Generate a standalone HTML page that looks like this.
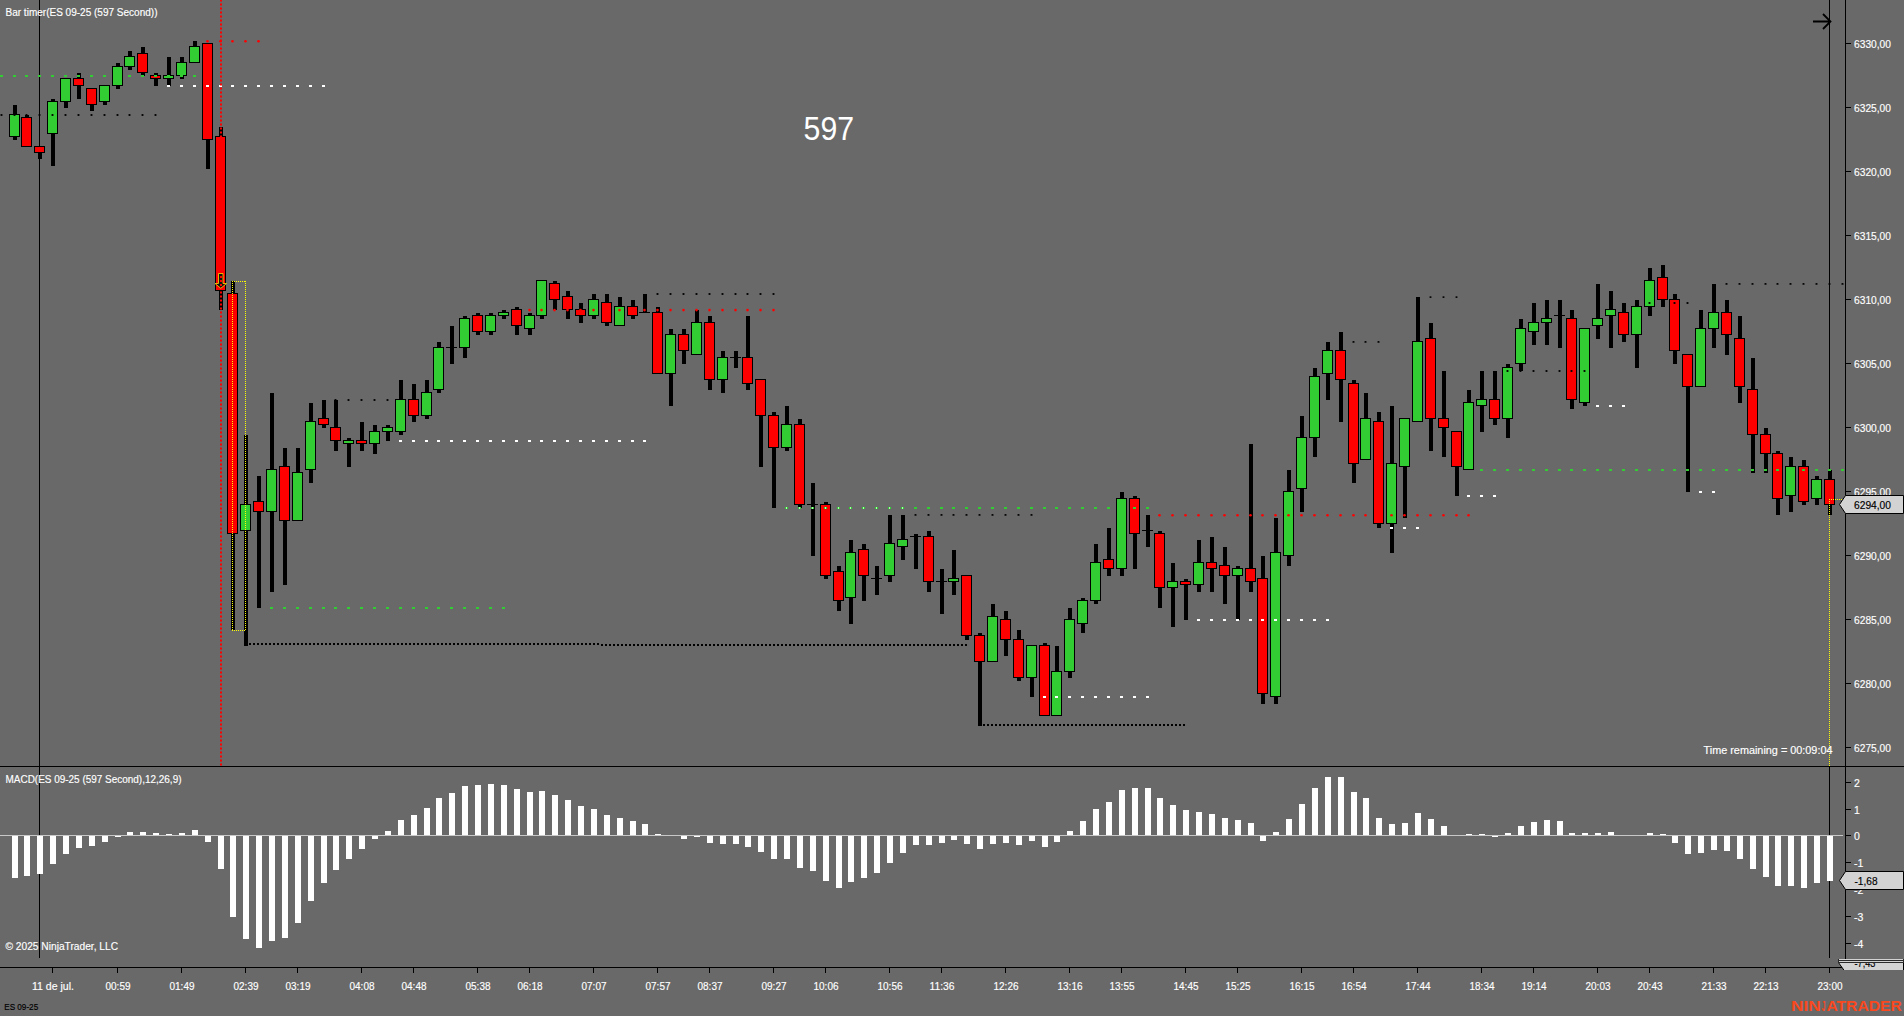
<!DOCTYPE html>
<html><head><meta charset="utf-8"><title>Chart</title>
<style>html,body{margin:0;padding:0;background:#696969;overflow:hidden}svg{display:block}</style>
</head><body>
<svg width="1904" height="1016" viewBox="0 0 1904 1016" style="display:block" font-family="'Liberation Sans', sans-serif" fill="#fff">
<rect width="1904" height="1016" fill="#696969"/>
<g shape-rendering="crispEdges">
<rect x="39" y="0" width="1" height="958" fill="#000"/>
<rect x="1829" y="0" width="1" height="470" fill="#000"/>
<rect x="1829" y="767" width="1" height="191" fill="#000"/>
<rect x="249" y="643" width="2" height="2" fill="#000"/>
<rect x="253" y="643" width="2" height="2" fill="#000"/>
<rect x="257" y="643" width="2" height="2" fill="#000"/>
<rect x="261" y="643" width="2" height="2" fill="#000"/>
<rect x="265" y="643" width="2" height="2" fill="#000"/>
<rect x="269" y="643" width="2" height="2" fill="#000"/>
<rect x="273" y="643" width="2" height="2" fill="#000"/>
<rect x="277" y="643" width="2" height="2" fill="#000"/>
<rect x="281" y="643" width="2" height="2" fill="#000"/>
<rect x="285" y="643" width="2" height="2" fill="#000"/>
<rect x="289" y="643" width="2" height="2" fill="#000"/>
<rect x="293" y="643" width="2" height="2" fill="#000"/>
<rect x="297" y="643" width="2" height="2" fill="#000"/>
<rect x="301" y="643" width="2" height="2" fill="#000"/>
<rect x="305" y="643" width="2" height="2" fill="#000"/>
<rect x="309" y="643" width="2" height="2" fill="#000"/>
<rect x="313" y="643" width="2" height="2" fill="#000"/>
<rect x="317" y="643" width="2" height="2" fill="#000"/>
<rect x="321" y="643" width="2" height="2" fill="#000"/>
<rect x="325" y="643" width="2" height="2" fill="#000"/>
<rect x="329" y="643" width="2" height="2" fill="#000"/>
<rect x="333" y="643" width="2" height="2" fill="#000"/>
<rect x="337" y="643" width="2" height="2" fill="#000"/>
<rect x="341" y="643" width="2" height="2" fill="#000"/>
<rect x="345" y="643" width="2" height="2" fill="#000"/>
<rect x="349" y="643" width="2" height="2" fill="#000"/>
<rect x="353" y="643" width="2" height="2" fill="#000"/>
<rect x="357" y="643" width="2" height="2" fill="#000"/>
<rect x="361" y="643" width="2" height="2" fill="#000"/>
<rect x="365" y="643" width="2" height="2" fill="#000"/>
<rect x="369" y="643" width="2" height="2" fill="#000"/>
<rect x="373" y="643" width="2" height="2" fill="#000"/>
<rect x="377" y="643" width="2" height="2" fill="#000"/>
<rect x="381" y="643" width="2" height="2" fill="#000"/>
<rect x="385" y="643" width="2" height="2" fill="#000"/>
<rect x="389" y="643" width="2" height="2" fill="#000"/>
<rect x="393" y="643" width="2" height="2" fill="#000"/>
<rect x="397" y="643" width="2" height="2" fill="#000"/>
<rect x="401" y="643" width="2" height="2" fill="#000"/>
<rect x="405" y="643" width="2" height="2" fill="#000"/>
<rect x="409" y="643" width="2" height="2" fill="#000"/>
<rect x="413" y="643" width="2" height="2" fill="#000"/>
<rect x="417" y="643" width="2" height="2" fill="#000"/>
<rect x="421" y="643" width="2" height="2" fill="#000"/>
<rect x="425" y="643" width="2" height="2" fill="#000"/>
<rect x="429" y="643" width="2" height="2" fill="#000"/>
<rect x="433" y="643" width="2" height="2" fill="#000"/>
<rect x="437" y="643" width="2" height="2" fill="#000"/>
<rect x="441" y="643" width="2" height="2" fill="#000"/>
<rect x="445" y="643" width="2" height="2" fill="#000"/>
<rect x="449" y="643" width="2" height="2" fill="#000"/>
<rect x="453" y="643" width="2" height="2" fill="#000"/>
<rect x="457" y="643" width="2" height="2" fill="#000"/>
<rect x="461" y="643" width="2" height="2" fill="#000"/>
<rect x="465" y="643" width="2" height="2" fill="#000"/>
<rect x="469" y="643" width="2" height="2" fill="#000"/>
<rect x="473" y="643" width="2" height="2" fill="#000"/>
<rect x="477" y="643" width="2" height="2" fill="#000"/>
<rect x="481" y="643" width="2" height="2" fill="#000"/>
<rect x="485" y="643" width="2" height="2" fill="#000"/>
<rect x="489" y="643" width="2" height="2" fill="#000"/>
<rect x="493" y="643" width="2" height="2" fill="#000"/>
<rect x="497" y="643" width="2" height="2" fill="#000"/>
<rect x="501" y="643" width="2" height="2" fill="#000"/>
<rect x="505" y="643" width="2" height="2" fill="#000"/>
<rect x="509" y="643" width="2" height="2" fill="#000"/>
<rect x="513" y="643" width="2" height="2" fill="#000"/>
<rect x="517" y="643" width="2" height="2" fill="#000"/>
<rect x="521" y="643" width="2" height="2" fill="#000"/>
<rect x="525" y="643" width="2" height="2" fill="#000"/>
<rect x="529" y="643" width="2" height="2" fill="#000"/>
<rect x="533" y="643" width="2" height="2" fill="#000"/>
<rect x="537" y="643" width="2" height="2" fill="#000"/>
<rect x="541" y="643" width="2" height="2" fill="#000"/>
<rect x="545" y="643" width="2" height="2" fill="#000"/>
<rect x="549" y="643" width="2" height="2" fill="#000"/>
<rect x="553" y="643" width="2" height="2" fill="#000"/>
<rect x="557" y="643" width="2" height="2" fill="#000"/>
<rect x="561" y="643" width="2" height="2" fill="#000"/>
<rect x="565" y="643" width="2" height="2" fill="#000"/>
<rect x="569" y="643" width="2" height="2" fill="#000"/>
<rect x="573" y="643" width="2" height="2" fill="#000"/>
<rect x="577" y="643" width="2" height="2" fill="#000"/>
<rect x="581" y="643" width="2" height="2" fill="#000"/>
<rect x="585" y="643" width="2" height="2" fill="#000"/>
<rect x="589" y="643" width="2" height="2" fill="#000"/>
<rect x="593" y="643" width="2" height="2" fill="#000"/>
<rect x="597" y="643" width="2" height="2" fill="#000"/>
<rect x="601" y="644" width="2" height="2" fill="#000"/>
<rect x="605" y="644" width="2" height="2" fill="#000"/>
<rect x="609" y="644" width="2" height="2" fill="#000"/>
<rect x="613" y="644" width="2" height="2" fill="#000"/>
<rect x="617" y="644" width="2" height="2" fill="#000"/>
<rect x="621" y="644" width="2" height="2" fill="#000"/>
<rect x="625" y="644" width="2" height="2" fill="#000"/>
<rect x="629" y="644" width="2" height="2" fill="#000"/>
<rect x="633" y="644" width="2" height="2" fill="#000"/>
<rect x="637" y="644" width="2" height="2" fill="#000"/>
<rect x="641" y="644" width="2" height="2" fill="#000"/>
<rect x="645" y="644" width="2" height="2" fill="#000"/>
<rect x="649" y="644" width="2" height="2" fill="#000"/>
<rect x="653" y="644" width="2" height="2" fill="#000"/>
<rect x="657" y="644" width="2" height="2" fill="#000"/>
<rect x="661" y="644" width="2" height="2" fill="#000"/>
<rect x="665" y="644" width="2" height="2" fill="#000"/>
<rect x="669" y="644" width="2" height="2" fill="#000"/>
<rect x="673" y="644" width="2" height="2" fill="#000"/>
<rect x="677" y="644" width="2" height="2" fill="#000"/>
<rect x="681" y="644" width="2" height="2" fill="#000"/>
<rect x="685" y="644" width="2" height="2" fill="#000"/>
<rect x="689" y="644" width="2" height="2" fill="#000"/>
<rect x="693" y="644" width="2" height="2" fill="#000"/>
<rect x="697" y="644" width="2" height="2" fill="#000"/>
<rect x="701" y="644" width="2" height="2" fill="#000"/>
<rect x="705" y="644" width="2" height="2" fill="#000"/>
<rect x="709" y="644" width="2" height="2" fill="#000"/>
<rect x="713" y="644" width="2" height="2" fill="#000"/>
<rect x="717" y="644" width="2" height="2" fill="#000"/>
<rect x="721" y="644" width="2" height="2" fill="#000"/>
<rect x="725" y="644" width="2" height="2" fill="#000"/>
<rect x="729" y="644" width="2" height="2" fill="#000"/>
<rect x="733" y="644" width="2" height="2" fill="#000"/>
<rect x="737" y="644" width="2" height="2" fill="#000"/>
<rect x="741" y="644" width="2" height="2" fill="#000"/>
<rect x="745" y="644" width="2" height="2" fill="#000"/>
<rect x="749" y="644" width="2" height="2" fill="#000"/>
<rect x="753" y="644" width="2" height="2" fill="#000"/>
<rect x="757" y="644" width="2" height="2" fill="#000"/>
<rect x="761" y="644" width="2" height="2" fill="#000"/>
<rect x="765" y="644" width="2" height="2" fill="#000"/>
<rect x="769" y="644" width="2" height="2" fill="#000"/>
<rect x="773" y="644" width="2" height="2" fill="#000"/>
<rect x="777" y="644" width="2" height="2" fill="#000"/>
<rect x="781" y="644" width="2" height="2" fill="#000"/>
<rect x="785" y="644" width="2" height="2" fill="#000"/>
<rect x="789" y="644" width="2" height="2" fill="#000"/>
<rect x="793" y="644" width="2" height="2" fill="#000"/>
<rect x="797" y="644" width="2" height="2" fill="#000"/>
<rect x="801" y="644" width="2" height="2" fill="#000"/>
<rect x="805" y="644" width="2" height="2" fill="#000"/>
<rect x="809" y="644" width="2" height="2" fill="#000"/>
<rect x="813" y="644" width="2" height="2" fill="#000"/>
<rect x="817" y="644" width="2" height="2" fill="#000"/>
<rect x="821" y="644" width="2" height="2" fill="#000"/>
<rect x="825" y="644" width="2" height="2" fill="#000"/>
<rect x="829" y="644" width="2" height="2" fill="#000"/>
<rect x="833" y="644" width="2" height="2" fill="#000"/>
<rect x="837" y="644" width="2" height="2" fill="#000"/>
<rect x="841" y="644" width="2" height="2" fill="#000"/>
<rect x="845" y="644" width="2" height="2" fill="#000"/>
<rect x="849" y="644" width="2" height="2" fill="#000"/>
<rect x="853" y="644" width="2" height="2" fill="#000"/>
<rect x="857" y="644" width="2" height="2" fill="#000"/>
<rect x="861" y="644" width="2" height="2" fill="#000"/>
<rect x="865" y="644" width="2" height="2" fill="#000"/>
<rect x="869" y="644" width="2" height="2" fill="#000"/>
<rect x="873" y="644" width="2" height="2" fill="#000"/>
<rect x="877" y="644" width="2" height="2" fill="#000"/>
<rect x="881" y="644" width="2" height="2" fill="#000"/>
<rect x="885" y="644" width="2" height="2" fill="#000"/>
<rect x="889" y="644" width="2" height="2" fill="#000"/>
<rect x="893" y="644" width="2" height="2" fill="#000"/>
<rect x="897" y="644" width="2" height="2" fill="#000"/>
<rect x="901" y="644" width="2" height="2" fill="#000"/>
<rect x="905" y="644" width="2" height="2" fill="#000"/>
<rect x="909" y="644" width="2" height="2" fill="#000"/>
<rect x="913" y="644" width="2" height="2" fill="#000"/>
<rect x="917" y="644" width="2" height="2" fill="#000"/>
<rect x="921" y="644" width="2" height="2" fill="#000"/>
<rect x="925" y="644" width="2" height="2" fill="#000"/>
<rect x="929" y="644" width="2" height="2" fill="#000"/>
<rect x="933" y="644" width="2" height="2" fill="#000"/>
<rect x="937" y="644" width="2" height="2" fill="#000"/>
<rect x="941" y="644" width="2" height="2" fill="#000"/>
<rect x="945" y="644" width="2" height="2" fill="#000"/>
<rect x="949" y="644" width="2" height="2" fill="#000"/>
<rect x="953" y="644" width="2" height="2" fill="#000"/>
<rect x="957" y="644" width="2" height="2" fill="#000"/>
<rect x="961" y="644" width="2" height="2" fill="#000"/>
<rect x="965" y="644" width="2" height="2" fill="#000"/>
<rect x="983" y="724" width="2" height="2" fill="#000"/>
<rect x="987" y="724" width="2" height="2" fill="#000"/>
<rect x="991" y="724" width="2" height="2" fill="#000"/>
<rect x="995" y="724" width="2" height="2" fill="#000"/>
<rect x="999" y="724" width="2" height="2" fill="#000"/>
<rect x="1003" y="724" width="2" height="2" fill="#000"/>
<rect x="1007" y="724" width="2" height="2" fill="#000"/>
<rect x="1011" y="724" width="2" height="2" fill="#000"/>
<rect x="1015" y="724" width="2" height="2" fill="#000"/>
<rect x="1019" y="724" width="2" height="2" fill="#000"/>
<rect x="1023" y="724" width="2" height="2" fill="#000"/>
<rect x="1027" y="724" width="2" height="2" fill="#000"/>
<rect x="1031" y="724" width="2" height="2" fill="#000"/>
<rect x="1035" y="724" width="2" height="2" fill="#000"/>
<rect x="1039" y="724" width="2" height="2" fill="#000"/>
<rect x="1043" y="724" width="2" height="2" fill="#000"/>
<rect x="1047" y="724" width="2" height="2" fill="#000"/>
<rect x="1051" y="724" width="2" height="2" fill="#000"/>
<rect x="1055" y="724" width="2" height="2" fill="#000"/>
<rect x="1059" y="724" width="2" height="2" fill="#000"/>
<rect x="1063" y="724" width="2" height="2" fill="#000"/>
<rect x="1067" y="724" width="2" height="2" fill="#000"/>
<rect x="1071" y="724" width="2" height="2" fill="#000"/>
<rect x="1075" y="724" width="2" height="2" fill="#000"/>
<rect x="1079" y="724" width="2" height="2" fill="#000"/>
<rect x="1083" y="724" width="2" height="2" fill="#000"/>
<rect x="1087" y="724" width="2" height="2" fill="#000"/>
<rect x="1091" y="724" width="2" height="2" fill="#000"/>
<rect x="1095" y="724" width="2" height="2" fill="#000"/>
<rect x="1099" y="724" width="2" height="2" fill="#000"/>
<rect x="1103" y="724" width="2" height="2" fill="#000"/>
<rect x="1107" y="724" width="2" height="2" fill="#000"/>
<rect x="1111" y="724" width="2" height="2" fill="#000"/>
<rect x="1115" y="724" width="2" height="2" fill="#000"/>
<rect x="1119" y="724" width="2" height="2" fill="#000"/>
<rect x="1123" y="724" width="2" height="2" fill="#000"/>
<rect x="1127" y="724" width="2" height="2" fill="#000"/>
<rect x="1131" y="724" width="2" height="2" fill="#000"/>
<rect x="1135" y="724" width="2" height="2" fill="#000"/>
<rect x="1139" y="724" width="2" height="2" fill="#000"/>
<rect x="1143" y="724" width="2" height="2" fill="#000"/>
<rect x="1147" y="724" width="2" height="2" fill="#000"/>
<rect x="1151" y="724" width="2" height="2" fill="#000"/>
<rect x="1155" y="724" width="2" height="2" fill="#000"/>
<rect x="1159" y="724" width="2" height="2" fill="#000"/>
<rect x="1163" y="724" width="2" height="2" fill="#000"/>
<rect x="1167" y="724" width="2" height="2" fill="#000"/>
<rect x="1171" y="724" width="2" height="2" fill="#000"/>
<rect x="1175" y="724" width="2" height="2" fill="#000"/>
<rect x="1179" y="724" width="2" height="2" fill="#000"/>
<rect x="1183" y="724" width="2" height="2" fill="#000"/>
<rect x="13" y="105" width="4" height="35" fill="#000"/>
<rect x="9" y="114" width="11" height="23" fill="#000"/>
<rect x="10" y="115" width="9" height="21" fill="#32cd32"/>
<rect x="25" y="115" width="4" height="32" fill="#000"/>
<rect x="21" y="117" width="11" height="30" fill="#000"/>
<rect x="22" y="118" width="9" height="28" fill="#ff0000"/>
<rect x="38" y="147" width="4" height="12" fill="#000"/>
<rect x="34" y="146" width="11" height="7" fill="#000"/>
<rect x="35" y="147" width="9" height="5" fill="#ff0000"/>
<rect x="51" y="99" width="4" height="67" fill="#000"/>
<rect x="47" y="101" width="11" height="33" fill="#000"/>
<rect x="48" y="102" width="9" height="31" fill="#32cd32"/>
<rect x="64" y="79" width="4" height="29" fill="#000"/>
<rect x="60" y="78" width="11" height="24" fill="#000"/>
<rect x="61" y="79" width="9" height="22" fill="#32cd32"/>
<rect x="77" y="73" width="4" height="26" fill="#000"/>
<rect x="73" y="78" width="11" height="8" fill="#000"/>
<rect x="74" y="79" width="9" height="6" fill="#ff0000"/>
<rect x="90" y="89" width="4" height="22" fill="#000"/>
<rect x="86" y="88" width="11" height="17" fill="#000"/>
<rect x="87" y="89" width="9" height="15" fill="#ff0000"/>
<rect x="103" y="86" width="4" height="19" fill="#000"/>
<rect x="99" y="85" width="11" height="17" fill="#000"/>
<rect x="100" y="86" width="9" height="15" fill="#32cd32"/>
<rect x="116" y="63" width="4" height="26" fill="#000"/>
<rect x="112" y="66" width="11" height="20" fill="#000"/>
<rect x="113" y="67" width="9" height="18" fill="#32cd32"/>
<rect x="128" y="51" width="4" height="19" fill="#000"/>
<rect x="124" y="56" width="11" height="11" fill="#000"/>
<rect x="125" y="57" width="9" height="9" fill="#32cd32"/>
<rect x="141" y="47" width="4" height="29" fill="#000"/>
<rect x="137" y="53" width="11" height="20" fill="#000"/>
<rect x="138" y="54" width="9" height="18" fill="#ff0000"/>
<rect x="154" y="73" width="4" height="13" fill="#000"/>
<rect x="150" y="75" width="11" height="4" fill="#000"/>
<rect x="151" y="76" width="9" height="2" fill="#ff0000"/>
<rect x="167" y="57" width="4" height="29" fill="#000"/>
<rect x="163" y="75" width="11" height="4" fill="#000"/>
<rect x="164" y="76" width="9" height="2" fill="#32cd32"/>
<rect x="180" y="57" width="4" height="22" fill="#000"/>
<rect x="176" y="62" width="11" height="14" fill="#000"/>
<rect x="177" y="63" width="9" height="12" fill="#32cd32"/>
<rect x="193" y="41" width="4" height="22" fill="#000"/>
<rect x="189" y="46" width="11" height="17" fill="#000"/>
<rect x="190" y="47" width="9" height="15" fill="#32cd32"/>
<rect x="206" y="44" width="4" height="125" fill="#000"/>
<rect x="202" y="43" width="11" height="97" fill="#000"/>
<rect x="203" y="44" width="9" height="95" fill="#ff0000"/>
<rect x="219" y="127" width="4" height="183" fill="#000"/>
<rect x="215" y="136" width="11" height="155" fill="#000"/>
<rect x="216" y="137" width="9" height="153" fill="#ff0000"/>
<rect x="231" y="281" width="4" height="349" fill="#000"/>
<rect x="227" y="293" width="11" height="241" fill="#000"/>
<rect x="228" y="294" width="9" height="239" fill="#ff0000"/>
<rect x="244" y="435" width="4" height="211" fill="#000"/>
<rect x="240" y="504" width="11" height="27" fill="#000"/>
<rect x="241" y="505" width="9" height="25" fill="#32cd32"/>
<rect x="257" y="476" width="4" height="132" fill="#000"/>
<rect x="253" y="501" width="11" height="11" fill="#000"/>
<rect x="254" y="502" width="9" height="9" fill="#ff0000"/>
<rect x="270" y="393" width="4" height="199" fill="#000"/>
<rect x="266" y="469" width="11" height="43" fill="#000"/>
<rect x="267" y="470" width="9" height="41" fill="#32cd32"/>
<rect x="283" y="448" width="4" height="137" fill="#000"/>
<rect x="279" y="466" width="11" height="55" fill="#000"/>
<rect x="280" y="467" width="9" height="53" fill="#ff0000"/>
<rect x="296" y="448" width="4" height="73" fill="#000"/>
<rect x="292" y="472" width="11" height="49" fill="#000"/>
<rect x="293" y="473" width="9" height="47" fill="#32cd32"/>
<rect x="309" y="403" width="4" height="80" fill="#000"/>
<rect x="305" y="421" width="11" height="49" fill="#000"/>
<rect x="306" y="422" width="9" height="47" fill="#32cd32"/>
<rect x="322" y="400" width="4" height="28" fill="#000"/>
<rect x="318" y="418" width="11" height="7" fill="#000"/>
<rect x="319" y="419" width="9" height="5" fill="#ff0000"/>
<rect x="334" y="400" width="4" height="51" fill="#000"/>
<rect x="330" y="427" width="11" height="14" fill="#000"/>
<rect x="331" y="428" width="9" height="12" fill="#ff0000"/>
<rect x="347" y="438" width="4" height="29" fill="#000"/>
<rect x="343" y="440" width="11" height="4" fill="#000"/>
<rect x="344" y="441" width="9" height="2" fill="#32cd32"/>
<rect x="360" y="422" width="4" height="29" fill="#000"/>
<rect x="356" y="440" width="11" height="4" fill="#000"/>
<rect x="357" y="441" width="9" height="2" fill="#ff0000"/>
<rect x="373" y="425" width="4" height="29" fill="#000"/>
<rect x="369" y="431" width="11" height="13" fill="#000"/>
<rect x="370" y="432" width="9" height="11" fill="#32cd32"/>
<rect x="386" y="425" width="4" height="16" fill="#000"/>
<rect x="382" y="427" width="11" height="5" fill="#000"/>
<rect x="383" y="428" width="9" height="3" fill="#32cd32"/>
<rect x="399" y="380" width="4" height="55" fill="#000"/>
<rect x="395" y="399" width="11" height="33" fill="#000"/>
<rect x="396" y="400" width="9" height="31" fill="#32cd32"/>
<rect x="412" y="384" width="4" height="38" fill="#000"/>
<rect x="408" y="399" width="11" height="17" fill="#000"/>
<rect x="409" y="400" width="9" height="15" fill="#ff0000"/>
<rect x="425" y="380" width="4" height="39" fill="#000"/>
<rect x="421" y="392" width="11" height="24" fill="#000"/>
<rect x="422" y="393" width="9" height="22" fill="#32cd32"/>
<rect x="437" y="342" width="4" height="51" fill="#000"/>
<rect x="433" y="347" width="11" height="43" fill="#000"/>
<rect x="434" y="348" width="9" height="41" fill="#32cd32"/>
<rect x="450" y="326" width="4" height="38" fill="#000"/>
<rect x="446" y="347" width="11" height="1" fill="#000"/>
<rect x="463" y="316" width="4" height="42" fill="#000"/>
<rect x="459" y="318" width="11" height="30" fill="#000"/>
<rect x="460" y="319" width="9" height="28" fill="#32cd32"/>
<rect x="476" y="313" width="4" height="22" fill="#000"/>
<rect x="472" y="315" width="11" height="17" fill="#000"/>
<rect x="473" y="316" width="9" height="15" fill="#ff0000"/>
<rect x="489" y="313" width="4" height="22" fill="#000"/>
<rect x="485" y="315" width="11" height="17" fill="#000"/>
<rect x="486" y="316" width="9" height="15" fill="#32cd32"/>
<rect x="502" y="310" width="4" height="9" fill="#000"/>
<rect x="498" y="312" width="11" height="4" fill="#000"/>
<rect x="499" y="313" width="9" height="2" fill="#32cd32"/>
<rect x="515" y="307" width="4" height="28" fill="#000"/>
<rect x="511" y="309" width="11" height="17" fill="#000"/>
<rect x="512" y="310" width="9" height="15" fill="#ff0000"/>
<rect x="528" y="313" width="4" height="22" fill="#000"/>
<rect x="524" y="315" width="11" height="14" fill="#000"/>
<rect x="525" y="316" width="9" height="12" fill="#32cd32"/>
<rect x="540" y="281" width="4" height="38" fill="#000"/>
<rect x="536" y="280" width="11" height="36" fill="#000"/>
<rect x="537" y="281" width="9" height="34" fill="#32cd32"/>
<rect x="553" y="281" width="4" height="29" fill="#000"/>
<rect x="549" y="283" width="11" height="17" fill="#000"/>
<rect x="550" y="284" width="9" height="15" fill="#ff0000"/>
<rect x="566" y="291" width="4" height="28" fill="#000"/>
<rect x="562" y="296" width="11" height="14" fill="#000"/>
<rect x="563" y="297" width="9" height="12" fill="#ff0000"/>
<rect x="579" y="303" width="4" height="20" fill="#000"/>
<rect x="575" y="309" width="11" height="7" fill="#000"/>
<rect x="576" y="310" width="9" height="5" fill="#ff0000"/>
<rect x="592" y="294" width="4" height="25" fill="#000"/>
<rect x="588" y="299" width="11" height="17" fill="#000"/>
<rect x="589" y="300" width="9" height="15" fill="#32cd32"/>
<rect x="605" y="294" width="4" height="32" fill="#000"/>
<rect x="601" y="302" width="11" height="21" fill="#000"/>
<rect x="602" y="303" width="9" height="19" fill="#ff0000"/>
<rect x="618" y="297" width="4" height="29" fill="#000"/>
<rect x="614" y="306" width="11" height="20" fill="#000"/>
<rect x="615" y="307" width="9" height="18" fill="#32cd32"/>
<rect x="631" y="300" width="4" height="19" fill="#000"/>
<rect x="627" y="306" width="11" height="10" fill="#000"/>
<rect x="628" y="307" width="9" height="8" fill="#ff0000"/>
<rect x="643" y="294" width="4" height="19" fill="#000"/>
<rect x="639" y="312" width="11" height="1" fill="#000"/>
<rect x="656" y="307" width="4" height="67" fill="#000"/>
<rect x="652" y="312" width="11" height="62" fill="#000"/>
<rect x="653" y="313" width="9" height="60" fill="#ff0000"/>
<rect x="669" y="329" width="4" height="77" fill="#000"/>
<rect x="665" y="334" width="11" height="40" fill="#000"/>
<rect x="666" y="335" width="9" height="38" fill="#32cd32"/>
<rect x="682" y="329" width="4" height="35" fill="#000"/>
<rect x="678" y="334" width="11" height="17" fill="#000"/>
<rect x="679" y="335" width="9" height="15" fill="#ff0000"/>
<rect x="695" y="310" width="4" height="45" fill="#000"/>
<rect x="691" y="322" width="11" height="33" fill="#000"/>
<rect x="692" y="323" width="9" height="31" fill="#32cd32"/>
<rect x="708" y="316" width="4" height="74" fill="#000"/>
<rect x="704" y="322" width="11" height="58" fill="#000"/>
<rect x="705" y="323" width="9" height="56" fill="#ff0000"/>
<rect x="721" y="351" width="4" height="42" fill="#000"/>
<rect x="717" y="357" width="11" height="23" fill="#000"/>
<rect x="718" y="358" width="9" height="21" fill="#32cd32"/>
<rect x="734" y="351" width="4" height="17" fill="#000"/>
<rect x="730" y="357" width="11" height="1" fill="#000"/>
<rect x="746" y="316" width="4" height="74" fill="#000"/>
<rect x="742" y="357" width="11" height="27" fill="#000"/>
<rect x="743" y="358" width="9" height="25" fill="#ff0000"/>
<rect x="759" y="380" width="4" height="87" fill="#000"/>
<rect x="755" y="379" width="11" height="37" fill="#000"/>
<rect x="756" y="380" width="9" height="35" fill="#ff0000"/>
<rect x="772" y="412" width="4" height="96" fill="#000"/>
<rect x="768" y="415" width="11" height="33" fill="#000"/>
<rect x="769" y="416" width="9" height="31" fill="#ff0000"/>
<rect x="785" y="406" width="4" height="45" fill="#000"/>
<rect x="781" y="424" width="11" height="24" fill="#000"/>
<rect x="782" y="425" width="9" height="22" fill="#32cd32"/>
<rect x="798" y="419" width="4" height="89" fill="#000"/>
<rect x="794" y="424" width="11" height="81" fill="#000"/>
<rect x="795" y="425" width="9" height="79" fill="#ff0000"/>
<rect x="811" y="483" width="4" height="73" fill="#000"/>
<rect x="807" y="504" width="11" height="1" fill="#000"/>
<rect x="824" y="502" width="4" height="77" fill="#000"/>
<rect x="820" y="504" width="11" height="72" fill="#000"/>
<rect x="821" y="505" width="9" height="70" fill="#ff0000"/>
<rect x="837" y="566" width="4" height="45" fill="#000"/>
<rect x="833" y="571" width="11" height="30" fill="#000"/>
<rect x="834" y="572" width="9" height="28" fill="#ff0000"/>
<rect x="849" y="540" width="4" height="84" fill="#000"/>
<rect x="845" y="552" width="11" height="46" fill="#000"/>
<rect x="846" y="553" width="9" height="44" fill="#32cd32"/>
<rect x="862" y="544" width="4" height="57" fill="#000"/>
<rect x="858" y="549" width="11" height="27" fill="#000"/>
<rect x="859" y="550" width="9" height="25" fill="#ff0000"/>
<rect x="875" y="566" width="4" height="29" fill="#000"/>
<rect x="871" y="578" width="11" height="1" fill="#000"/>
<rect x="888" y="515" width="4" height="67" fill="#000"/>
<rect x="884" y="543" width="11" height="33" fill="#000"/>
<rect x="885" y="544" width="9" height="31" fill="#32cd32"/>
<rect x="901" y="515" width="4" height="45" fill="#000"/>
<rect x="897" y="539" width="11" height="8" fill="#000"/>
<rect x="898" y="540" width="9" height="6" fill="#32cd32"/>
<rect x="914" y="534" width="4" height="35" fill="#000"/>
<rect x="910" y="536" width="11" height="1" fill="#000"/>
<rect x="927" y="531" width="4" height="61" fill="#000"/>
<rect x="923" y="536" width="11" height="46" fill="#000"/>
<rect x="924" y="537" width="9" height="44" fill="#ff0000"/>
<rect x="940" y="569" width="4" height="45" fill="#000"/>
<rect x="936" y="581" width="11" height="1" fill="#000"/>
<rect x="952" y="550" width="4" height="45" fill="#000"/>
<rect x="948" y="578" width="11" height="4" fill="#000"/>
<rect x="949" y="579" width="9" height="2" fill="#32cd32"/>
<rect x="965" y="576" width="4" height="64" fill="#000"/>
<rect x="961" y="575" width="11" height="61" fill="#000"/>
<rect x="962" y="576" width="9" height="59" fill="#ff0000"/>
<rect x="978" y="633" width="4" height="93" fill="#000"/>
<rect x="974" y="635" width="11" height="27" fill="#000"/>
<rect x="975" y="636" width="9" height="25" fill="#ff0000"/>
<rect x="991" y="604" width="4" height="58" fill="#000"/>
<rect x="987" y="616" width="11" height="46" fill="#000"/>
<rect x="988" y="617" width="9" height="44" fill="#32cd32"/>
<rect x="1004" y="611" width="4" height="45" fill="#000"/>
<rect x="1000" y="619" width="11" height="21" fill="#000"/>
<rect x="1001" y="620" width="9" height="19" fill="#ff0000"/>
<rect x="1017" y="630" width="4" height="51" fill="#000"/>
<rect x="1013" y="639" width="11" height="39" fill="#000"/>
<rect x="1014" y="640" width="9" height="37" fill="#ff0000"/>
<rect x="1030" y="646" width="4" height="51" fill="#000"/>
<rect x="1026" y="645" width="11" height="33" fill="#000"/>
<rect x="1027" y="646" width="9" height="31" fill="#32cd32"/>
<rect x="1043" y="643" width="4" height="73" fill="#000"/>
<rect x="1039" y="645" width="11" height="71" fill="#000"/>
<rect x="1040" y="646" width="9" height="69" fill="#ff0000"/>
<rect x="1055" y="646" width="4" height="70" fill="#000"/>
<rect x="1051" y="671" width="11" height="45" fill="#000"/>
<rect x="1052" y="672" width="9" height="43" fill="#32cd32"/>
<rect x="1068" y="608" width="4" height="70" fill="#000"/>
<rect x="1064" y="619" width="11" height="53" fill="#000"/>
<rect x="1065" y="620" width="9" height="51" fill="#32cd32"/>
<rect x="1081" y="598" width="4" height="35" fill="#000"/>
<rect x="1077" y="600" width="11" height="24" fill="#000"/>
<rect x="1078" y="601" width="9" height="22" fill="#32cd32"/>
<rect x="1094" y="544" width="4" height="60" fill="#000"/>
<rect x="1090" y="562" width="11" height="39" fill="#000"/>
<rect x="1091" y="563" width="9" height="37" fill="#32cd32"/>
<rect x="1107" y="528" width="4" height="48" fill="#000"/>
<rect x="1103" y="559" width="11" height="10" fill="#000"/>
<rect x="1104" y="560" width="9" height="8" fill="#ff0000"/>
<rect x="1120" y="492" width="4" height="84" fill="#000"/>
<rect x="1116" y="498" width="11" height="71" fill="#000"/>
<rect x="1117" y="499" width="9" height="69" fill="#32cd32"/>
<rect x="1133" y="496" width="4" height="73" fill="#000"/>
<rect x="1129" y="498" width="11" height="36" fill="#000"/>
<rect x="1130" y="499" width="9" height="34" fill="#ff0000"/>
<rect x="1146" y="515" width="4" height="32" fill="#000"/>
<rect x="1142" y="530" width="11" height="1" fill="#000"/>
<rect x="1158" y="531" width="4" height="77" fill="#000"/>
<rect x="1154" y="533" width="11" height="55" fill="#000"/>
<rect x="1155" y="534" width="9" height="53" fill="#ff0000"/>
<rect x="1171" y="563" width="4" height="64" fill="#000"/>
<rect x="1167" y="581" width="11" height="7" fill="#000"/>
<rect x="1168" y="582" width="9" height="5" fill="#32cd32"/>
<rect x="1184" y="579" width="4" height="41" fill="#000"/>
<rect x="1180" y="581" width="11" height="4" fill="#000"/>
<rect x="1181" y="582" width="9" height="2" fill="#ff0000"/>
<rect x="1197" y="540" width="4" height="52" fill="#000"/>
<rect x="1193" y="562" width="11" height="23" fill="#000"/>
<rect x="1194" y="563" width="9" height="21" fill="#32cd32"/>
<rect x="1210" y="537" width="4" height="55" fill="#000"/>
<rect x="1206" y="562" width="11" height="7" fill="#000"/>
<rect x="1207" y="563" width="9" height="5" fill="#ff0000"/>
<rect x="1223" y="547" width="4" height="57" fill="#000"/>
<rect x="1219" y="565" width="11" height="11" fill="#000"/>
<rect x="1220" y="566" width="9" height="9" fill="#ff0000"/>
<rect x="1236" y="566" width="4" height="54" fill="#000"/>
<rect x="1232" y="568" width="11" height="8" fill="#000"/>
<rect x="1233" y="569" width="9" height="6" fill="#32cd32"/>
<rect x="1249" y="444" width="4" height="148" fill="#000"/>
<rect x="1245" y="568" width="11" height="14" fill="#000"/>
<rect x="1246" y="569" width="9" height="12" fill="#ff0000"/>
<rect x="1261" y="556" width="4" height="148" fill="#000"/>
<rect x="1257" y="578" width="11" height="116" fill="#000"/>
<rect x="1258" y="579" width="9" height="114" fill="#ff0000"/>
<rect x="1274" y="518" width="4" height="186" fill="#000"/>
<rect x="1270" y="552" width="11" height="145" fill="#000"/>
<rect x="1271" y="553" width="9" height="143" fill="#32cd32"/>
<rect x="1287" y="470" width="4" height="96" fill="#000"/>
<rect x="1283" y="491" width="11" height="65" fill="#000"/>
<rect x="1284" y="492" width="9" height="63" fill="#32cd32"/>
<rect x="1300" y="416" width="4" height="96" fill="#000"/>
<rect x="1296" y="437" width="11" height="52" fill="#000"/>
<rect x="1297" y="438" width="9" height="50" fill="#32cd32"/>
<rect x="1313" y="368" width="4" height="89" fill="#000"/>
<rect x="1309" y="376" width="11" height="62" fill="#000"/>
<rect x="1310" y="377" width="9" height="60" fill="#32cd32"/>
<rect x="1326" y="342" width="4" height="58" fill="#000"/>
<rect x="1322" y="350" width="11" height="24" fill="#000"/>
<rect x="1323" y="351" width="9" height="22" fill="#32cd32"/>
<rect x="1339" y="332" width="4" height="90" fill="#000"/>
<rect x="1335" y="350" width="11" height="30" fill="#000"/>
<rect x="1336" y="351" width="9" height="28" fill="#ff0000"/>
<rect x="1352" y="380" width="4" height="103" fill="#000"/>
<rect x="1348" y="383" width="11" height="81" fill="#000"/>
<rect x="1349" y="384" width="9" height="79" fill="#ff0000"/>
<rect x="1364" y="393" width="4" height="67" fill="#000"/>
<rect x="1360" y="418" width="11" height="42" fill="#000"/>
<rect x="1361" y="419" width="9" height="40" fill="#32cd32"/>
<rect x="1377" y="412" width="4" height="116" fill="#000"/>
<rect x="1373" y="421" width="11" height="103" fill="#000"/>
<rect x="1374" y="422" width="9" height="101" fill="#ff0000"/>
<rect x="1390" y="406" width="4" height="147" fill="#000"/>
<rect x="1386" y="463" width="11" height="61" fill="#000"/>
<rect x="1387" y="464" width="9" height="59" fill="#32cd32"/>
<rect x="1403" y="419" width="4" height="99" fill="#000"/>
<rect x="1399" y="418" width="11" height="49" fill="#000"/>
<rect x="1400" y="419" width="9" height="47" fill="#32cd32"/>
<rect x="1416" y="297" width="4" height="125" fill="#000"/>
<rect x="1412" y="341" width="11" height="81" fill="#000"/>
<rect x="1413" y="342" width="9" height="79" fill="#32cd32"/>
<rect x="1429" y="323" width="4" height="128" fill="#000"/>
<rect x="1425" y="338" width="11" height="81" fill="#000"/>
<rect x="1426" y="339" width="9" height="79" fill="#ff0000"/>
<rect x="1442" y="371" width="4" height="86" fill="#000"/>
<rect x="1438" y="418" width="11" height="10" fill="#000"/>
<rect x="1439" y="419" width="9" height="8" fill="#ff0000"/>
<rect x="1455" y="432" width="4" height="64" fill="#000"/>
<rect x="1451" y="431" width="11" height="36" fill="#000"/>
<rect x="1452" y="432" width="9" height="34" fill="#ff0000"/>
<rect x="1467" y="390" width="4" height="80" fill="#000"/>
<rect x="1463" y="402" width="11" height="68" fill="#000"/>
<rect x="1464" y="403" width="9" height="66" fill="#32cd32"/>
<rect x="1480" y="371" width="4" height="61" fill="#000"/>
<rect x="1476" y="399" width="11" height="7" fill="#000"/>
<rect x="1477" y="400" width="9" height="5" fill="#32cd32"/>
<rect x="1493" y="371" width="4" height="54" fill="#000"/>
<rect x="1489" y="399" width="11" height="20" fill="#000"/>
<rect x="1490" y="400" width="9" height="18" fill="#ff0000"/>
<rect x="1506" y="364" width="4" height="74" fill="#000"/>
<rect x="1502" y="367" width="11" height="52" fill="#000"/>
<rect x="1503" y="368" width="9" height="50" fill="#32cd32"/>
<rect x="1519" y="319" width="4" height="52" fill="#000"/>
<rect x="1515" y="328" width="11" height="36" fill="#000"/>
<rect x="1516" y="329" width="9" height="34" fill="#32cd32"/>
<rect x="1532" y="303" width="4" height="42" fill="#000"/>
<rect x="1528" y="322" width="11" height="10" fill="#000"/>
<rect x="1529" y="323" width="9" height="8" fill="#32cd32"/>
<rect x="1545" y="300" width="4" height="45" fill="#000"/>
<rect x="1541" y="318" width="11" height="5" fill="#000"/>
<rect x="1542" y="319" width="9" height="3" fill="#32cd32"/>
<rect x="1558" y="300" width="4" height="48" fill="#000"/>
<rect x="1554" y="315" width="11" height="1" fill="#000"/>
<rect x="1570" y="310" width="4" height="99" fill="#000"/>
<rect x="1566" y="318" width="11" height="82" fill="#000"/>
<rect x="1567" y="319" width="9" height="80" fill="#ff0000"/>
<rect x="1583" y="329" width="4" height="77" fill="#000"/>
<rect x="1579" y="328" width="11" height="75" fill="#000"/>
<rect x="1580" y="329" width="9" height="73" fill="#32cd32"/>
<rect x="1596" y="284" width="4" height="55" fill="#000"/>
<rect x="1592" y="318" width="11" height="8" fill="#000"/>
<rect x="1593" y="319" width="9" height="6" fill="#32cd32"/>
<rect x="1609" y="291" width="4" height="57" fill="#000"/>
<rect x="1605" y="309" width="11" height="7" fill="#000"/>
<rect x="1606" y="310" width="9" height="5" fill="#32cd32"/>
<rect x="1622" y="303" width="4" height="39" fill="#000"/>
<rect x="1618" y="312" width="11" height="23" fill="#000"/>
<rect x="1619" y="313" width="9" height="21" fill="#ff0000"/>
<rect x="1635" y="300" width="4" height="68" fill="#000"/>
<rect x="1631" y="306" width="11" height="29" fill="#000"/>
<rect x="1632" y="307" width="9" height="27" fill="#32cd32"/>
<rect x="1648" y="268" width="4" height="48" fill="#000"/>
<rect x="1644" y="280" width="11" height="27" fill="#000"/>
<rect x="1645" y="281" width="9" height="25" fill="#32cd32"/>
<rect x="1661" y="265" width="4" height="42" fill="#000"/>
<rect x="1657" y="277" width="11" height="23" fill="#000"/>
<rect x="1658" y="278" width="9" height="21" fill="#ff0000"/>
<rect x="1673" y="294" width="4" height="70" fill="#000"/>
<rect x="1669" y="299" width="11" height="52" fill="#000"/>
<rect x="1670" y="300" width="9" height="50" fill="#ff0000"/>
<rect x="1686" y="355" width="4" height="137" fill="#000"/>
<rect x="1682" y="354" width="11" height="33" fill="#000"/>
<rect x="1683" y="355" width="9" height="31" fill="#ff0000"/>
<rect x="1699" y="310" width="4" height="77" fill="#000"/>
<rect x="1695" y="328" width="11" height="59" fill="#000"/>
<rect x="1696" y="329" width="9" height="57" fill="#32cd32"/>
<rect x="1712" y="284" width="4" height="64" fill="#000"/>
<rect x="1708" y="312" width="11" height="17" fill="#000"/>
<rect x="1709" y="313" width="9" height="15" fill="#32cd32"/>
<rect x="1725" y="300" width="4" height="55" fill="#000"/>
<rect x="1721" y="312" width="11" height="23" fill="#000"/>
<rect x="1722" y="313" width="9" height="21" fill="#ff0000"/>
<rect x="1738" y="316" width="4" height="87" fill="#000"/>
<rect x="1734" y="338" width="11" height="49" fill="#000"/>
<rect x="1735" y="339" width="9" height="47" fill="#ff0000"/>
<rect x="1751" y="358" width="4" height="115" fill="#000"/>
<rect x="1747" y="389" width="11" height="46" fill="#000"/>
<rect x="1748" y="390" width="9" height="44" fill="#ff0000"/>
<rect x="1764" y="428" width="4" height="45" fill="#000"/>
<rect x="1760" y="434" width="11" height="20" fill="#000"/>
<rect x="1761" y="435" width="9" height="18" fill="#ff0000"/>
<rect x="1776" y="451" width="4" height="64" fill="#000"/>
<rect x="1772" y="453" width="11" height="46" fill="#000"/>
<rect x="1773" y="454" width="9" height="44" fill="#ff0000"/>
<rect x="1789" y="457" width="4" height="55" fill="#000"/>
<rect x="1785" y="466" width="11" height="30" fill="#000"/>
<rect x="1786" y="467" width="9" height="28" fill="#32cd32"/>
<rect x="1802" y="460" width="4" height="45" fill="#000"/>
<rect x="1798" y="466" width="11" height="36" fill="#000"/>
<rect x="1799" y="467" width="9" height="34" fill="#ff0000"/>
<rect x="1815" y="476" width="4" height="29" fill="#000"/>
<rect x="1811" y="479" width="11" height="20" fill="#000"/>
<rect x="1812" y="480" width="9" height="18" fill="#32cd32"/>
<rect x="1828" y="470" width="4" height="45" fill="#000"/>
<rect x="1824" y="479" width="11" height="26" fill="#000"/>
<rect x="1825" y="480" width="9" height="24" fill="#ff0000"/>
<rect x="167" y="85" width="3" height="2" fill="#fff"/>
<rect x="180" y="85" width="3" height="2" fill="#fff"/>
<rect x="193" y="85" width="3" height="2" fill="#fff"/>
<rect x="206" y="85" width="3" height="2" fill="#fff"/>
<rect x="219" y="85" width="3" height="2" fill="#fff"/>
<rect x="231" y="85" width="3" height="2" fill="#fff"/>
<rect x="244" y="85" width="3" height="2" fill="#fff"/>
<rect x="257" y="85" width="3" height="2" fill="#fff"/>
<rect x="270" y="85" width="3" height="2" fill="#fff"/>
<rect x="283" y="85" width="3" height="2" fill="#fff"/>
<rect x="296" y="85" width="3" height="2" fill="#fff"/>
<rect x="309" y="85" width="3" height="2" fill="#fff"/>
<rect x="322" y="85" width="3" height="2" fill="#fff"/>
<rect x="399" y="440" width="3" height="2" fill="#fff"/>
<rect x="412" y="440" width="3" height="2" fill="#fff"/>
<rect x="425" y="440" width="3" height="2" fill="#fff"/>
<rect x="437" y="440" width="3" height="2" fill="#fff"/>
<rect x="450" y="440" width="3" height="2" fill="#fff"/>
<rect x="463" y="440" width="3" height="2" fill="#fff"/>
<rect x="476" y="440" width="3" height="2" fill="#fff"/>
<rect x="489" y="440" width="3" height="2" fill="#fff"/>
<rect x="502" y="440" width="3" height="2" fill="#fff"/>
<rect x="515" y="440" width="3" height="2" fill="#fff"/>
<rect x="528" y="440" width="3" height="2" fill="#fff"/>
<rect x="540" y="440" width="3" height="2" fill="#fff"/>
<rect x="553" y="440" width="3" height="2" fill="#fff"/>
<rect x="566" y="440" width="3" height="2" fill="#fff"/>
<rect x="579" y="440" width="3" height="2" fill="#fff"/>
<rect x="592" y="440" width="3" height="2" fill="#fff"/>
<rect x="605" y="440" width="3" height="2" fill="#fff"/>
<rect x="618" y="440" width="3" height="2" fill="#fff"/>
<rect x="631" y="440" width="3" height="2" fill="#fff"/>
<rect x="643" y="440" width="3" height="2" fill="#fff"/>
<rect x="1043" y="696" width="3" height="2" fill="#fff"/>
<rect x="1055" y="696" width="3" height="2" fill="#fff"/>
<rect x="1068" y="696" width="3" height="2" fill="#fff"/>
<rect x="1081" y="696" width="3" height="2" fill="#fff"/>
<rect x="1094" y="696" width="3" height="2" fill="#fff"/>
<rect x="1107" y="696" width="3" height="2" fill="#fff"/>
<rect x="1120" y="696" width="3" height="2" fill="#fff"/>
<rect x="1133" y="696" width="3" height="2" fill="#fff"/>
<rect x="1146" y="696" width="3" height="2" fill="#fff"/>
<rect x="1197" y="619" width="3" height="2" fill="#fff"/>
<rect x="1210" y="619" width="3" height="2" fill="#fff"/>
<rect x="1223" y="619" width="3" height="2" fill="#fff"/>
<rect x="1236" y="619" width="3" height="2" fill="#fff"/>
<rect x="1249" y="619" width="3" height="2" fill="#fff"/>
<rect x="1261" y="619" width="3" height="2" fill="#fff"/>
<rect x="1274" y="619" width="3" height="2" fill="#fff"/>
<rect x="1287" y="619" width="3" height="2" fill="#fff"/>
<rect x="1300" y="619" width="3" height="2" fill="#fff"/>
<rect x="1313" y="619" width="3" height="2" fill="#fff"/>
<rect x="1326" y="619" width="3" height="2" fill="#fff"/>
<rect x="1390" y="527" width="3" height="2" fill="#fff"/>
<rect x="1403" y="527" width="3" height="2" fill="#fff"/>
<rect x="1416" y="527" width="3" height="2" fill="#fff"/>
<rect x="1467" y="495" width="3" height="2" fill="#fff"/>
<rect x="1480" y="495" width="3" height="2" fill="#fff"/>
<rect x="1493" y="495" width="3" height="2" fill="#fff"/>
<rect x="1596" y="405" width="3" height="2" fill="#fff"/>
<rect x="1609" y="405" width="3" height="2" fill="#fff"/>
<rect x="1622" y="405" width="3" height="2" fill="#fff"/>
<rect x="1699" y="491" width="3" height="2" fill="#fff"/>
<rect x="1712" y="491" width="3" height="2" fill="#fff"/>
<rect x="0" y="75" width="3" height="2" fill="#32cd32"/>
<rect x="13" y="75" width="3" height="2" fill="#32cd32"/>
<rect x="25" y="75" width="3" height="2" fill="#32cd32"/>
<rect x="38" y="75" width="3" height="2" fill="#32cd32"/>
<rect x="51" y="75" width="3" height="2" fill="#32cd32"/>
<rect x="64" y="75" width="3" height="2" fill="#32cd32"/>
<rect x="77" y="75" width="3" height="2" fill="#32cd32"/>
<rect x="90" y="75" width="3" height="2" fill="#32cd32"/>
<rect x="103" y="75" width="3" height="2" fill="#32cd32"/>
<rect x="116" y="75" width="3" height="2" fill="#32cd32"/>
<rect x="128" y="75" width="3" height="2" fill="#32cd32"/>
<rect x="141" y="75" width="3" height="2" fill="#32cd32"/>
<rect x="154" y="75" width="3" height="2" fill="#32cd32"/>
<rect x="167" y="75" width="3" height="2" fill="#32cd32"/>
<rect x="180" y="75" width="3" height="2" fill="#32cd32"/>
<rect x="193" y="75" width="3" height="2" fill="#32cd32"/>
<rect x="270" y="607" width="3" height="2" fill="#32cd32"/>
<rect x="283" y="607" width="3" height="2" fill="#32cd32"/>
<rect x="296" y="607" width="3" height="2" fill="#32cd32"/>
<rect x="309" y="607" width="3" height="2" fill="#32cd32"/>
<rect x="322" y="607" width="3" height="2" fill="#32cd32"/>
<rect x="334" y="607" width="3" height="2" fill="#32cd32"/>
<rect x="347" y="607" width="3" height="2" fill="#32cd32"/>
<rect x="360" y="607" width="3" height="2" fill="#32cd32"/>
<rect x="373" y="607" width="3" height="2" fill="#32cd32"/>
<rect x="386" y="607" width="3" height="2" fill="#32cd32"/>
<rect x="399" y="607" width="3" height="2" fill="#32cd32"/>
<rect x="412" y="607" width="3" height="2" fill="#32cd32"/>
<rect x="425" y="607" width="3" height="2" fill="#32cd32"/>
<rect x="437" y="607" width="3" height="2" fill="#32cd32"/>
<rect x="450" y="607" width="3" height="2" fill="#32cd32"/>
<rect x="463" y="607" width="3" height="2" fill="#32cd32"/>
<rect x="476" y="607" width="3" height="2" fill="#32cd32"/>
<rect x="489" y="607" width="3" height="2" fill="#32cd32"/>
<rect x="502" y="607" width="3" height="2" fill="#32cd32"/>
<rect x="785" y="507" width="3" height="2" fill="#32cd32"/>
<rect x="786" y="507" width="1" height="2" fill="#b4f5b4"/>
<rect x="798" y="507" width="3" height="2" fill="#32cd32"/>
<rect x="799" y="507" width="1" height="2" fill="#b4f5b4"/>
<rect x="811" y="507" width="3" height="2" fill="#32cd32"/>
<rect x="812" y="507" width="1" height="2" fill="#b4f5b4"/>
<rect x="824" y="507" width="3" height="2" fill="#32cd32"/>
<rect x="825" y="507" width="1" height="2" fill="#b4f5b4"/>
<rect x="837" y="507" width="3" height="2" fill="#32cd32"/>
<rect x="838" y="507" width="1" height="2" fill="#b4f5b4"/>
<rect x="849" y="507" width="3" height="2" fill="#32cd32"/>
<rect x="850" y="507" width="1" height="2" fill="#b4f5b4"/>
<rect x="862" y="507" width="3" height="2" fill="#32cd32"/>
<rect x="863" y="507" width="1" height="2" fill="#b4f5b4"/>
<rect x="875" y="507" width="3" height="2" fill="#32cd32"/>
<rect x="876" y="507" width="1" height="2" fill="#b4f5b4"/>
<rect x="888" y="507" width="3" height="2" fill="#32cd32"/>
<rect x="889" y="507" width="1" height="2" fill="#b4f5b4"/>
<rect x="901" y="507" width="3" height="2" fill="#32cd32"/>
<rect x="902" y="507" width="1" height="2" fill="#b4f5b4"/>
<rect x="914" y="507" width="3" height="2" fill="#32cd32"/>
<rect x="927" y="507" width="3" height="2" fill="#32cd32"/>
<rect x="940" y="507" width="3" height="2" fill="#32cd32"/>
<rect x="952" y="507" width="3" height="2" fill="#32cd32"/>
<rect x="965" y="507" width="3" height="2" fill="#32cd32"/>
<rect x="978" y="507" width="3" height="2" fill="#32cd32"/>
<rect x="991" y="507" width="3" height="2" fill="#32cd32"/>
<rect x="1004" y="507" width="3" height="2" fill="#32cd32"/>
<rect x="1017" y="507" width="3" height="2" fill="#32cd32"/>
<rect x="1030" y="507" width="3" height="2" fill="#32cd32"/>
<rect x="1043" y="507" width="3" height="2" fill="#32cd32"/>
<rect x="1055" y="507" width="3" height="2" fill="#32cd32"/>
<rect x="1068" y="507" width="3" height="2" fill="#32cd32"/>
<rect x="1081" y="507" width="3" height="2" fill="#32cd32"/>
<rect x="1094" y="507" width="3" height="2" fill="#32cd32"/>
<rect x="1107" y="507" width="3" height="2" fill="#32cd32"/>
<rect x="1120" y="507" width="3" height="2" fill="#32cd32"/>
<rect x="1133" y="507" width="3" height="2" fill="#32cd32"/>
<rect x="1146" y="507" width="3" height="2" fill="#32cd32"/>
<rect x="1480" y="469" width="3" height="2" fill="#32cd32"/>
<rect x="1493" y="469" width="3" height="2" fill="#32cd32"/>
<rect x="1506" y="469" width="3" height="2" fill="#32cd32"/>
<rect x="1519" y="469" width="3" height="2" fill="#32cd32"/>
<rect x="1532" y="469" width="3" height="2" fill="#32cd32"/>
<rect x="1545" y="469" width="3" height="2" fill="#32cd32"/>
<rect x="1558" y="469" width="3" height="2" fill="#32cd32"/>
<rect x="1570" y="469" width="3" height="2" fill="#32cd32"/>
<rect x="1583" y="469" width="3" height="2" fill="#32cd32"/>
<rect x="1596" y="469" width="3" height="2" fill="#32cd32"/>
<rect x="1609" y="469" width="3" height="2" fill="#32cd32"/>
<rect x="1622" y="469" width="3" height="2" fill="#32cd32"/>
<rect x="1635" y="469" width="3" height="2" fill="#32cd32"/>
<rect x="1648" y="469" width="3" height="2" fill="#32cd32"/>
<rect x="1661" y="469" width="3" height="2" fill="#32cd32"/>
<rect x="1673" y="469" width="3" height="2" fill="#32cd32"/>
<rect x="1686" y="469" width="3" height="2" fill="#32cd32"/>
<rect x="1699" y="469" width="3" height="2" fill="#32cd32"/>
<rect x="1712" y="469" width="3" height="2" fill="#32cd32"/>
<rect x="1725" y="469" width="3" height="2" fill="#32cd32"/>
<rect x="1738" y="469" width="3" height="2" fill="#32cd32"/>
<rect x="1751" y="469" width="3" height="2" fill="#32cd32"/>
<rect x="1764" y="469" width="3" height="2" fill="#32cd32"/>
<rect x="1776" y="469" width="3" height="2" fill="#32cd32"/>
<rect x="1789" y="469" width="3" height="2" fill="#32cd32"/>
<rect x="1802" y="469" width="3" height="2" fill="#32cd32"/>
<rect x="1815" y="469" width="3" height="2" fill="#32cd32"/>
<rect x="1828" y="469" width="3" height="2" fill="#32cd32"/>
<rect x="1841" y="469" width="3" height="2" fill="#32cd32"/>
<rect x="232" y="281" width="1" height="1" fill="#ff0"/>
<rect x="245" y="281" width="1" height="1" fill="#ff0"/>
<rect x="232" y="283" width="1" height="1" fill="#ff0"/>
<rect x="245" y="283" width="1" height="1" fill="#ff0"/>
<rect x="232" y="285" width="1" height="1" fill="#ff0"/>
<rect x="245" y="285" width="1" height="1" fill="#ff0"/>
<rect x="232" y="287" width="1" height="1" fill="#ff0"/>
<rect x="245" y="287" width="1" height="1" fill="#ff0"/>
<rect x="232" y="289" width="1" height="1" fill="#ff0"/>
<rect x="245" y="289" width="1" height="1" fill="#ff0"/>
<rect x="232" y="291" width="1" height="1" fill="#ff0"/>
<rect x="245" y="291" width="1" height="1" fill="#ff0"/>
<rect x="232" y="293" width="1" height="1" fill="#ff0"/>
<rect x="245" y="293" width="1" height="1" fill="#ff0"/>
<rect x="232" y="295" width="1" height="1" fill="#ff0"/>
<rect x="245" y="295" width="1" height="1" fill="#ff0"/>
<rect x="232" y="297" width="1" height="1" fill="#ff0"/>
<rect x="245" y="297" width="1" height="1" fill="#ff0"/>
<rect x="232" y="299" width="1" height="1" fill="#ff0"/>
<rect x="245" y="299" width="1" height="1" fill="#ff0"/>
<rect x="232" y="301" width="1" height="1" fill="#ff0"/>
<rect x="245" y="301" width="1" height="1" fill="#ff0"/>
<rect x="232" y="303" width="1" height="1" fill="#ff0"/>
<rect x="245" y="303" width="1" height="1" fill="#ff0"/>
<rect x="232" y="305" width="1" height="1" fill="#ff0"/>
<rect x="245" y="305" width="1" height="1" fill="#ff0"/>
<rect x="232" y="307" width="1" height="1" fill="#ff0"/>
<rect x="245" y="307" width="1" height="1" fill="#ff0"/>
<rect x="232" y="309" width="1" height="1" fill="#ff0"/>
<rect x="245" y="309" width="1" height="1" fill="#ff0"/>
<rect x="232" y="311" width="1" height="1" fill="#ff0"/>
<rect x="245" y="311" width="1" height="1" fill="#ff0"/>
<rect x="232" y="313" width="1" height="1" fill="#ff0"/>
<rect x="245" y="313" width="1" height="1" fill="#ff0"/>
<rect x="232" y="315" width="1" height="1" fill="#ff0"/>
<rect x="245" y="315" width="1" height="1" fill="#ff0"/>
<rect x="232" y="317" width="1" height="1" fill="#ff0"/>
<rect x="245" y="317" width="1" height="1" fill="#ff0"/>
<rect x="232" y="319" width="1" height="1" fill="#ff0"/>
<rect x="245" y="319" width="1" height="1" fill="#ff0"/>
<rect x="232" y="321" width="1" height="1" fill="#ff0"/>
<rect x="245" y="321" width="1" height="1" fill="#ff0"/>
<rect x="232" y="323" width="1" height="1" fill="#ff0"/>
<rect x="245" y="323" width="1" height="1" fill="#ff0"/>
<rect x="232" y="325" width="1" height="1" fill="#ff0"/>
<rect x="245" y="325" width="1" height="1" fill="#ff0"/>
<rect x="232" y="327" width="1" height="1" fill="#ff0"/>
<rect x="245" y="327" width="1" height="1" fill="#ff0"/>
<rect x="232" y="329" width="1" height="1" fill="#ff0"/>
<rect x="245" y="329" width="1" height="1" fill="#ff0"/>
<rect x="232" y="331" width="1" height="1" fill="#ff0"/>
<rect x="245" y="331" width="1" height="1" fill="#ff0"/>
<rect x="232" y="333" width="1" height="1" fill="#ff0"/>
<rect x="245" y="333" width="1" height="1" fill="#ff0"/>
<rect x="232" y="335" width="1" height="1" fill="#ff0"/>
<rect x="245" y="335" width="1" height="1" fill="#ff0"/>
<rect x="232" y="337" width="1" height="1" fill="#ff0"/>
<rect x="245" y="337" width="1" height="1" fill="#ff0"/>
<rect x="232" y="339" width="1" height="1" fill="#ff0"/>
<rect x="245" y="339" width="1" height="1" fill="#ff0"/>
<rect x="232" y="341" width="1" height="1" fill="#ff0"/>
<rect x="245" y="341" width="1" height="1" fill="#ff0"/>
<rect x="232" y="343" width="1" height="1" fill="#ff0"/>
<rect x="245" y="343" width="1" height="1" fill="#ff0"/>
<rect x="232" y="345" width="1" height="1" fill="#ff0"/>
<rect x="245" y="345" width="1" height="1" fill="#ff0"/>
<rect x="232" y="347" width="1" height="1" fill="#ff0"/>
<rect x="245" y="347" width="1" height="1" fill="#ff0"/>
<rect x="232" y="349" width="1" height="1" fill="#ff0"/>
<rect x="245" y="349" width="1" height="1" fill="#ff0"/>
<rect x="232" y="351" width="1" height="1" fill="#ff0"/>
<rect x="245" y="351" width="1" height="1" fill="#ff0"/>
<rect x="232" y="353" width="1" height="1" fill="#ff0"/>
<rect x="245" y="353" width="1" height="1" fill="#ff0"/>
<rect x="232" y="355" width="1" height="1" fill="#ff0"/>
<rect x="245" y="355" width="1" height="1" fill="#ff0"/>
<rect x="232" y="357" width="1" height="1" fill="#ff0"/>
<rect x="245" y="357" width="1" height="1" fill="#ff0"/>
<rect x="232" y="359" width="1" height="1" fill="#ff0"/>
<rect x="245" y="359" width="1" height="1" fill="#ff0"/>
<rect x="232" y="361" width="1" height="1" fill="#ff0"/>
<rect x="245" y="361" width="1" height="1" fill="#ff0"/>
<rect x="232" y="363" width="1" height="1" fill="#ff0"/>
<rect x="245" y="363" width="1" height="1" fill="#ff0"/>
<rect x="232" y="365" width="1" height="1" fill="#ff0"/>
<rect x="245" y="365" width="1" height="1" fill="#ff0"/>
<rect x="232" y="367" width="1" height="1" fill="#ff0"/>
<rect x="245" y="367" width="1" height="1" fill="#ff0"/>
<rect x="232" y="369" width="1" height="1" fill="#ff0"/>
<rect x="245" y="369" width="1" height="1" fill="#ff0"/>
<rect x="232" y="371" width="1" height="1" fill="#ff0"/>
<rect x="245" y="371" width="1" height="1" fill="#ff0"/>
<rect x="232" y="373" width="1" height="1" fill="#ff0"/>
<rect x="245" y="373" width="1" height="1" fill="#ff0"/>
<rect x="232" y="375" width="1" height="1" fill="#ff0"/>
<rect x="245" y="375" width="1" height="1" fill="#ff0"/>
<rect x="232" y="377" width="1" height="1" fill="#ff0"/>
<rect x="245" y="377" width="1" height="1" fill="#ff0"/>
<rect x="232" y="379" width="1" height="1" fill="#ff0"/>
<rect x="245" y="379" width="1" height="1" fill="#ff0"/>
<rect x="232" y="381" width="1" height="1" fill="#ff0"/>
<rect x="245" y="381" width="1" height="1" fill="#ff0"/>
<rect x="232" y="383" width="1" height="1" fill="#ff0"/>
<rect x="245" y="383" width="1" height="1" fill="#ff0"/>
<rect x="232" y="385" width="1" height="1" fill="#ff0"/>
<rect x="245" y="385" width="1" height="1" fill="#ff0"/>
<rect x="232" y="387" width="1" height="1" fill="#ff0"/>
<rect x="245" y="387" width="1" height="1" fill="#ff0"/>
<rect x="232" y="389" width="1" height="1" fill="#ff0"/>
<rect x="245" y="389" width="1" height="1" fill="#ff0"/>
<rect x="232" y="391" width="1" height="1" fill="#ff0"/>
<rect x="245" y="391" width="1" height="1" fill="#ff0"/>
<rect x="232" y="393" width="1" height="1" fill="#ff0"/>
<rect x="245" y="393" width="1" height="1" fill="#ff0"/>
<rect x="232" y="395" width="1" height="1" fill="#ff0"/>
<rect x="245" y="395" width="1" height="1" fill="#ff0"/>
<rect x="232" y="397" width="1" height="1" fill="#ff0"/>
<rect x="245" y="397" width="1" height="1" fill="#ff0"/>
<rect x="232" y="399" width="1" height="1" fill="#ff0"/>
<rect x="245" y="399" width="1" height="1" fill="#ff0"/>
<rect x="232" y="401" width="1" height="1" fill="#ff0"/>
<rect x="245" y="401" width="1" height="1" fill="#ff0"/>
<rect x="232" y="403" width="1" height="1" fill="#ff0"/>
<rect x="245" y="403" width="1" height="1" fill="#ff0"/>
<rect x="232" y="405" width="1" height="1" fill="#ff0"/>
<rect x="245" y="405" width="1" height="1" fill="#ff0"/>
<rect x="232" y="407" width="1" height="1" fill="#ff0"/>
<rect x="245" y="407" width="1" height="1" fill="#ff0"/>
<rect x="232" y="409" width="1" height="1" fill="#ff0"/>
<rect x="245" y="409" width="1" height="1" fill="#ff0"/>
<rect x="232" y="411" width="1" height="1" fill="#ff0"/>
<rect x="245" y="411" width="1" height="1" fill="#ff0"/>
<rect x="232" y="413" width="1" height="1" fill="#ff0"/>
<rect x="245" y="413" width="1" height="1" fill="#ff0"/>
<rect x="232" y="415" width="1" height="1" fill="#ff0"/>
<rect x="245" y="415" width="1" height="1" fill="#ff0"/>
<rect x="232" y="417" width="1" height="1" fill="#ff0"/>
<rect x="245" y="417" width="1" height="1" fill="#ff0"/>
<rect x="232" y="419" width="1" height="1" fill="#ff0"/>
<rect x="245" y="419" width="1" height="1" fill="#ff0"/>
<rect x="232" y="421" width="1" height="1" fill="#ff0"/>
<rect x="245" y="421" width="1" height="1" fill="#ff0"/>
<rect x="232" y="423" width="1" height="1" fill="#ff0"/>
<rect x="245" y="423" width="1" height="1" fill="#ff0"/>
<rect x="232" y="425" width="1" height="1" fill="#ff0"/>
<rect x="245" y="425" width="1" height="1" fill="#ff0"/>
<rect x="232" y="427" width="1" height="1" fill="#ff0"/>
<rect x="245" y="427" width="1" height="1" fill="#ff0"/>
<rect x="232" y="429" width="1" height="1" fill="#ff0"/>
<rect x="245" y="429" width="1" height="1" fill="#ff0"/>
<rect x="232" y="431" width="1" height="1" fill="#ff0"/>
<rect x="245" y="431" width="1" height="1" fill="#ff0"/>
<rect x="232" y="433" width="1" height="1" fill="#ff0"/>
<rect x="245" y="433" width="1" height="1" fill="#ff0"/>
<rect x="232" y="435" width="1" height="1" fill="#ff0"/>
<rect x="245" y="435" width="1" height="1" fill="#ff0"/>
<rect x="232" y="437" width="1" height="1" fill="#ff0"/>
<rect x="245" y="437" width="1" height="1" fill="#ff0"/>
<rect x="232" y="439" width="1" height="1" fill="#ff0"/>
<rect x="245" y="439" width="1" height="1" fill="#ff0"/>
<rect x="232" y="441" width="1" height="1" fill="#ff0"/>
<rect x="245" y="441" width="1" height="1" fill="#ff0"/>
<rect x="232" y="443" width="1" height="1" fill="#ff0"/>
<rect x="245" y="443" width="1" height="1" fill="#ff0"/>
<rect x="232" y="445" width="1" height="1" fill="#ff0"/>
<rect x="245" y="445" width="1" height="1" fill="#ff0"/>
<rect x="232" y="447" width="1" height="1" fill="#ff0"/>
<rect x="245" y="447" width="1" height="1" fill="#ff0"/>
<rect x="232" y="449" width="1" height="1" fill="#ff0"/>
<rect x="245" y="449" width="1" height="1" fill="#ff0"/>
<rect x="232" y="451" width="1" height="1" fill="#ff0"/>
<rect x="245" y="451" width="1" height="1" fill="#ff0"/>
<rect x="232" y="453" width="1" height="1" fill="#ff0"/>
<rect x="245" y="453" width="1" height="1" fill="#ff0"/>
<rect x="232" y="455" width="1" height="1" fill="#ff0"/>
<rect x="245" y="455" width="1" height="1" fill="#ff0"/>
<rect x="232" y="457" width="1" height="1" fill="#ff0"/>
<rect x="245" y="457" width="1" height="1" fill="#ff0"/>
<rect x="232" y="459" width="1" height="1" fill="#ff0"/>
<rect x="245" y="459" width="1" height="1" fill="#ff0"/>
<rect x="232" y="461" width="1" height="1" fill="#ff0"/>
<rect x="245" y="461" width="1" height="1" fill="#ff0"/>
<rect x="232" y="463" width="1" height="1" fill="#ff0"/>
<rect x="245" y="463" width="1" height="1" fill="#ff0"/>
<rect x="232" y="465" width="1" height="1" fill="#ff0"/>
<rect x="245" y="465" width="1" height="1" fill="#ff0"/>
<rect x="232" y="467" width="1" height="1" fill="#ff0"/>
<rect x="245" y="467" width="1" height="1" fill="#ff0"/>
<rect x="232" y="469" width="1" height="1" fill="#ff0"/>
<rect x="245" y="469" width="1" height="1" fill="#ff0"/>
<rect x="232" y="471" width="1" height="1" fill="#ff0"/>
<rect x="245" y="471" width="1" height="1" fill="#ff0"/>
<rect x="232" y="473" width="1" height="1" fill="#ff0"/>
<rect x="245" y="473" width="1" height="1" fill="#ff0"/>
<rect x="232" y="475" width="1" height="1" fill="#ff0"/>
<rect x="245" y="475" width="1" height="1" fill="#ff0"/>
<rect x="232" y="477" width="1" height="1" fill="#ff0"/>
<rect x="245" y="477" width="1" height="1" fill="#ff0"/>
<rect x="232" y="479" width="1" height="1" fill="#ff0"/>
<rect x="245" y="479" width="1" height="1" fill="#ff0"/>
<rect x="232" y="481" width="1" height="1" fill="#ff0"/>
<rect x="245" y="481" width="1" height="1" fill="#ff0"/>
<rect x="232" y="483" width="1" height="1" fill="#ff0"/>
<rect x="245" y="483" width="1" height="1" fill="#ff0"/>
<rect x="232" y="485" width="1" height="1" fill="#ff0"/>
<rect x="245" y="485" width="1" height="1" fill="#ff0"/>
<rect x="232" y="487" width="1" height="1" fill="#ff0"/>
<rect x="245" y="487" width="1" height="1" fill="#ff0"/>
<rect x="232" y="489" width="1" height="1" fill="#ff0"/>
<rect x="245" y="489" width="1" height="1" fill="#ff0"/>
<rect x="232" y="491" width="1" height="1" fill="#ff0"/>
<rect x="245" y="491" width="1" height="1" fill="#ff0"/>
<rect x="232" y="493" width="1" height="1" fill="#ff0"/>
<rect x="245" y="493" width="1" height="1" fill="#ff0"/>
<rect x="232" y="495" width="1" height="1" fill="#ff0"/>
<rect x="245" y="495" width="1" height="1" fill="#ff0"/>
<rect x="232" y="497" width="1" height="1" fill="#ff0"/>
<rect x="245" y="497" width="1" height="1" fill="#ff0"/>
<rect x="232" y="499" width="1" height="1" fill="#ff0"/>
<rect x="245" y="499" width="1" height="1" fill="#ff0"/>
<rect x="232" y="501" width="1" height="1" fill="#ff0"/>
<rect x="245" y="501" width="1" height="1" fill="#ff0"/>
<rect x="232" y="503" width="1" height="1" fill="#ff0"/>
<rect x="245" y="503" width="1" height="1" fill="#ff0"/>
<rect x="232" y="505" width="1" height="1" fill="#ff0"/>
<rect x="245" y="505" width="1" height="1" fill="#ff0"/>
<rect x="232" y="507" width="1" height="1" fill="#ff0"/>
<rect x="245" y="507" width="1" height="1" fill="#ff0"/>
<rect x="232" y="509" width="1" height="1" fill="#ff0"/>
<rect x="245" y="509" width="1" height="1" fill="#ff0"/>
<rect x="232" y="511" width="1" height="1" fill="#ff0"/>
<rect x="245" y="511" width="1" height="1" fill="#ff0"/>
<rect x="232" y="513" width="1" height="1" fill="#ff0"/>
<rect x="245" y="513" width="1" height="1" fill="#ff0"/>
<rect x="232" y="515" width="1" height="1" fill="#ff0"/>
<rect x="245" y="515" width="1" height="1" fill="#ff0"/>
<rect x="232" y="517" width="1" height="1" fill="#ff0"/>
<rect x="245" y="517" width="1" height="1" fill="#ff0"/>
<rect x="232" y="519" width="1" height="1" fill="#ff0"/>
<rect x="245" y="519" width="1" height="1" fill="#ff0"/>
<rect x="232" y="521" width="1" height="1" fill="#ff0"/>
<rect x="245" y="521" width="1" height="1" fill="#ff0"/>
<rect x="232" y="523" width="1" height="1" fill="#ff0"/>
<rect x="245" y="523" width="1" height="1" fill="#ff0"/>
<rect x="232" y="525" width="1" height="1" fill="#ff0"/>
<rect x="245" y="525" width="1" height="1" fill="#ff0"/>
<rect x="232" y="527" width="1" height="1" fill="#ff0"/>
<rect x="245" y="527" width="1" height="1" fill="#ff0"/>
<rect x="232" y="529" width="1" height="1" fill="#ff0"/>
<rect x="245" y="529" width="1" height="1" fill="#ff0"/>
<rect x="232" y="531" width="1" height="1" fill="#ff0"/>
<rect x="245" y="531" width="1" height="1" fill="#ff0"/>
<rect x="232" y="533" width="1" height="1" fill="#ff0"/>
<rect x="245" y="533" width="1" height="1" fill="#ff0"/>
<rect x="232" y="535" width="1" height="1" fill="#ff0"/>
<rect x="245" y="535" width="1" height="1" fill="#ff0"/>
<rect x="232" y="537" width="1" height="1" fill="#ff0"/>
<rect x="245" y="537" width="1" height="1" fill="#ff0"/>
<rect x="232" y="539" width="1" height="1" fill="#ff0"/>
<rect x="245" y="539" width="1" height="1" fill="#ff0"/>
<rect x="232" y="541" width="1" height="1" fill="#ff0"/>
<rect x="245" y="541" width="1" height="1" fill="#ff0"/>
<rect x="232" y="543" width="1" height="1" fill="#ff0"/>
<rect x="245" y="543" width="1" height="1" fill="#ff0"/>
<rect x="232" y="545" width="1" height="1" fill="#ff0"/>
<rect x="245" y="545" width="1" height="1" fill="#ff0"/>
<rect x="232" y="547" width="1" height="1" fill="#ff0"/>
<rect x="245" y="547" width="1" height="1" fill="#ff0"/>
<rect x="232" y="549" width="1" height="1" fill="#ff0"/>
<rect x="245" y="549" width="1" height="1" fill="#ff0"/>
<rect x="232" y="551" width="1" height="1" fill="#ff0"/>
<rect x="245" y="551" width="1" height="1" fill="#ff0"/>
<rect x="232" y="553" width="1" height="1" fill="#ff0"/>
<rect x="245" y="553" width="1" height="1" fill="#ff0"/>
<rect x="232" y="555" width="1" height="1" fill="#ff0"/>
<rect x="245" y="555" width="1" height="1" fill="#ff0"/>
<rect x="232" y="557" width="1" height="1" fill="#ff0"/>
<rect x="245" y="557" width="1" height="1" fill="#ff0"/>
<rect x="232" y="559" width="1" height="1" fill="#ff0"/>
<rect x="245" y="559" width="1" height="1" fill="#ff0"/>
<rect x="232" y="561" width="1" height="1" fill="#ff0"/>
<rect x="245" y="561" width="1" height="1" fill="#ff0"/>
<rect x="232" y="563" width="1" height="1" fill="#ff0"/>
<rect x="245" y="563" width="1" height="1" fill="#ff0"/>
<rect x="232" y="565" width="1" height="1" fill="#ff0"/>
<rect x="245" y="565" width="1" height="1" fill="#ff0"/>
<rect x="232" y="567" width="1" height="1" fill="#ff0"/>
<rect x="245" y="567" width="1" height="1" fill="#ff0"/>
<rect x="232" y="569" width="1" height="1" fill="#ff0"/>
<rect x="245" y="569" width="1" height="1" fill="#ff0"/>
<rect x="232" y="571" width="1" height="1" fill="#ff0"/>
<rect x="245" y="571" width="1" height="1" fill="#ff0"/>
<rect x="232" y="573" width="1" height="1" fill="#ff0"/>
<rect x="245" y="573" width="1" height="1" fill="#ff0"/>
<rect x="232" y="575" width="1" height="1" fill="#ff0"/>
<rect x="245" y="575" width="1" height="1" fill="#ff0"/>
<rect x="232" y="577" width="1" height="1" fill="#ff0"/>
<rect x="245" y="577" width="1" height="1" fill="#ff0"/>
<rect x="232" y="579" width="1" height="1" fill="#ff0"/>
<rect x="245" y="579" width="1" height="1" fill="#ff0"/>
<rect x="232" y="581" width="1" height="1" fill="#ff0"/>
<rect x="245" y="581" width="1" height="1" fill="#ff0"/>
<rect x="232" y="583" width="1" height="1" fill="#ff0"/>
<rect x="245" y="583" width="1" height="1" fill="#ff0"/>
<rect x="232" y="585" width="1" height="1" fill="#ff0"/>
<rect x="245" y="585" width="1" height="1" fill="#ff0"/>
<rect x="232" y="587" width="1" height="1" fill="#ff0"/>
<rect x="245" y="587" width="1" height="1" fill="#ff0"/>
<rect x="232" y="589" width="1" height="1" fill="#ff0"/>
<rect x="245" y="589" width="1" height="1" fill="#ff0"/>
<rect x="232" y="591" width="1" height="1" fill="#ff0"/>
<rect x="245" y="591" width="1" height="1" fill="#ff0"/>
<rect x="232" y="593" width="1" height="1" fill="#ff0"/>
<rect x="245" y="593" width="1" height="1" fill="#ff0"/>
<rect x="232" y="595" width="1" height="1" fill="#ff0"/>
<rect x="245" y="595" width="1" height="1" fill="#ff0"/>
<rect x="232" y="597" width="1" height="1" fill="#ff0"/>
<rect x="245" y="597" width="1" height="1" fill="#ff0"/>
<rect x="232" y="599" width="1" height="1" fill="#ff0"/>
<rect x="245" y="599" width="1" height="1" fill="#ff0"/>
<rect x="232" y="601" width="1" height="1" fill="#ff0"/>
<rect x="245" y="601" width="1" height="1" fill="#ff0"/>
<rect x="232" y="603" width="1" height="1" fill="#ff0"/>
<rect x="245" y="603" width="1" height="1" fill="#ff0"/>
<rect x="232" y="605" width="1" height="1" fill="#ff0"/>
<rect x="245" y="605" width="1" height="1" fill="#ff0"/>
<rect x="232" y="607" width="1" height="1" fill="#ff0"/>
<rect x="245" y="607" width="1" height="1" fill="#ff0"/>
<rect x="232" y="609" width="1" height="1" fill="#ff0"/>
<rect x="245" y="609" width="1" height="1" fill="#ff0"/>
<rect x="232" y="611" width="1" height="1" fill="#ff0"/>
<rect x="245" y="611" width="1" height="1" fill="#ff0"/>
<rect x="232" y="613" width="1" height="1" fill="#ff0"/>
<rect x="245" y="613" width="1" height="1" fill="#ff0"/>
<rect x="232" y="615" width="1" height="1" fill="#ff0"/>
<rect x="245" y="615" width="1" height="1" fill="#ff0"/>
<rect x="232" y="617" width="1" height="1" fill="#ff0"/>
<rect x="245" y="617" width="1" height="1" fill="#ff0"/>
<rect x="232" y="619" width="1" height="1" fill="#ff0"/>
<rect x="245" y="619" width="1" height="1" fill="#ff0"/>
<rect x="232" y="621" width="1" height="1" fill="#ff0"/>
<rect x="245" y="621" width="1" height="1" fill="#ff0"/>
<rect x="232" y="623" width="1" height="1" fill="#ff0"/>
<rect x="245" y="623" width="1" height="1" fill="#ff0"/>
<rect x="232" y="625" width="1" height="1" fill="#ff0"/>
<rect x="245" y="625" width="1" height="1" fill="#ff0"/>
<rect x="232" y="627" width="1" height="1" fill="#ff0"/>
<rect x="245" y="627" width="1" height="1" fill="#ff0"/>
<rect x="232" y="629" width="1" height="1" fill="#ff0"/>
<rect x="245" y="629" width="1" height="1" fill="#ff0"/>
<rect x="232" y="281" width="1" height="1" fill="#ff0"/>
<rect x="232" y="630" width="1" height="1" fill="#ff0"/>
<rect x="234" y="281" width="1" height="1" fill="#ff0"/>
<rect x="234" y="630" width="1" height="1" fill="#ff0"/>
<rect x="236" y="281" width="1" height="1" fill="#ff0"/>
<rect x="236" y="630" width="1" height="1" fill="#ff0"/>
<rect x="238" y="281" width="1" height="1" fill="#ff0"/>
<rect x="238" y="630" width="1" height="1" fill="#ff0"/>
<rect x="240" y="281" width="1" height="1" fill="#ff0"/>
<rect x="240" y="630" width="1" height="1" fill="#ff0"/>
<rect x="242" y="281" width="1" height="1" fill="#ff0"/>
<rect x="242" y="630" width="1" height="1" fill="#ff0"/>
<rect x="244" y="281" width="1" height="1" fill="#ff0"/>
<rect x="244" y="630" width="1" height="1" fill="#ff0"/>
<rect x="1829" y="499" width="1" height="1" fill="#ff0"/>
<rect x="1831" y="499" width="1" height="1" fill="#ff0"/>
<rect x="1833" y="499" width="1" height="1" fill="#ff0"/>
<rect x="1835" y="499" width="1" height="1" fill="#ff0"/>
<rect x="1837" y="499" width="1" height="1" fill="#ff0"/>
<rect x="1839" y="499" width="1" height="1" fill="#ff0"/>
<rect x="1841" y="499" width="1" height="1" fill="#ff0"/>
<rect x="1829" y="499" width="1" height="1" fill="#ff0"/>
<rect x="1829" y="501" width="1" height="1" fill="#ff0"/>
<rect x="1829" y="503" width="1" height="1" fill="#ff0"/>
<rect x="1829" y="505" width="1" height="1" fill="#ff0"/>
<rect x="1829" y="507" width="1" height="1" fill="#ff0"/>
<rect x="1829" y="509" width="1" height="1" fill="#ff0"/>
<rect x="1829" y="511" width="1" height="1" fill="#ff0"/>
<rect x="1829" y="513" width="1" height="1" fill="#ff0"/>
<rect x="1829" y="515" width="1" height="1" fill="#ff0"/>
<rect x="1829" y="517" width="1" height="1" fill="#ff0"/>
<rect x="1829" y="519" width="1" height="1" fill="#ff0"/>
<rect x="1829" y="521" width="1" height="1" fill="#ff0"/>
<rect x="1829" y="523" width="1" height="1" fill="#ff0"/>
<rect x="1829" y="525" width="1" height="1" fill="#ff0"/>
<rect x="1829" y="527" width="1" height="1" fill="#ff0"/>
<rect x="1829" y="529" width="1" height="1" fill="#ff0"/>
<rect x="1829" y="531" width="1" height="1" fill="#ff0"/>
<rect x="1829" y="533" width="1" height="1" fill="#ff0"/>
<rect x="1829" y="535" width="1" height="1" fill="#ff0"/>
<rect x="1829" y="537" width="1" height="1" fill="#ff0"/>
<rect x="1829" y="539" width="1" height="1" fill="#ff0"/>
<rect x="1829" y="541" width="1" height="1" fill="#ff0"/>
<rect x="1829" y="543" width="1" height="1" fill="#ff0"/>
<rect x="1829" y="545" width="1" height="1" fill="#ff0"/>
<rect x="1829" y="547" width="1" height="1" fill="#ff0"/>
<rect x="1829" y="549" width="1" height="1" fill="#ff0"/>
<rect x="1829" y="551" width="1" height="1" fill="#ff0"/>
<rect x="1829" y="553" width="1" height="1" fill="#ff0"/>
<rect x="1829" y="555" width="1" height="1" fill="#ff0"/>
<rect x="1829" y="557" width="1" height="1" fill="#ff0"/>
<rect x="1829" y="559" width="1" height="1" fill="#ff0"/>
<rect x="1829" y="561" width="1" height="1" fill="#ff0"/>
<rect x="1829" y="563" width="1" height="1" fill="#ff0"/>
<rect x="1829" y="565" width="1" height="1" fill="#ff0"/>
<rect x="1829" y="567" width="1" height="1" fill="#ff0"/>
<rect x="1829" y="569" width="1" height="1" fill="#ff0"/>
<rect x="1829" y="571" width="1" height="1" fill="#ff0"/>
<rect x="1829" y="573" width="1" height="1" fill="#ff0"/>
<rect x="1829" y="575" width="1" height="1" fill="#ff0"/>
<rect x="1829" y="577" width="1" height="1" fill="#ff0"/>
<rect x="1829" y="579" width="1" height="1" fill="#ff0"/>
<rect x="1829" y="581" width="1" height="1" fill="#ff0"/>
<rect x="1829" y="583" width="1" height="1" fill="#ff0"/>
<rect x="1829" y="585" width="1" height="1" fill="#ff0"/>
<rect x="1829" y="587" width="1" height="1" fill="#ff0"/>
<rect x="1829" y="589" width="1" height="1" fill="#ff0"/>
<rect x="1829" y="591" width="1" height="1" fill="#ff0"/>
<rect x="1829" y="593" width="1" height="1" fill="#ff0"/>
<rect x="1829" y="595" width="1" height="1" fill="#ff0"/>
<rect x="1829" y="597" width="1" height="1" fill="#ff0"/>
<rect x="1829" y="599" width="1" height="1" fill="#ff0"/>
<rect x="1829" y="601" width="1" height="1" fill="#ff0"/>
<rect x="1829" y="603" width="1" height="1" fill="#ff0"/>
<rect x="1829" y="605" width="1" height="1" fill="#ff0"/>
<rect x="1829" y="607" width="1" height="1" fill="#ff0"/>
<rect x="1829" y="609" width="1" height="1" fill="#ff0"/>
<rect x="1829" y="611" width="1" height="1" fill="#ff0"/>
<rect x="1829" y="613" width="1" height="1" fill="#ff0"/>
<rect x="1829" y="615" width="1" height="1" fill="#ff0"/>
<rect x="1829" y="617" width="1" height="1" fill="#ff0"/>
<rect x="1829" y="619" width="1" height="1" fill="#ff0"/>
<rect x="1829" y="621" width="1" height="1" fill="#ff0"/>
<rect x="1829" y="623" width="1" height="1" fill="#ff0"/>
<rect x="1829" y="625" width="1" height="1" fill="#ff0"/>
<rect x="1829" y="627" width="1" height="1" fill="#ff0"/>
<rect x="1829" y="629" width="1" height="1" fill="#ff0"/>
<rect x="1829" y="631" width="1" height="1" fill="#ff0"/>
<rect x="1829" y="633" width="1" height="1" fill="#ff0"/>
<rect x="1829" y="635" width="1" height="1" fill="#ff0"/>
<rect x="1829" y="637" width="1" height="1" fill="#ff0"/>
<rect x="1829" y="639" width="1" height="1" fill="#ff0"/>
<rect x="1829" y="641" width="1" height="1" fill="#ff0"/>
<rect x="1829" y="643" width="1" height="1" fill="#ff0"/>
<rect x="1829" y="645" width="1" height="1" fill="#ff0"/>
<rect x="1829" y="647" width="1" height="1" fill="#ff0"/>
<rect x="1829" y="649" width="1" height="1" fill="#ff0"/>
<rect x="1829" y="651" width="1" height="1" fill="#ff0"/>
<rect x="1829" y="653" width="1" height="1" fill="#ff0"/>
<rect x="1829" y="655" width="1" height="1" fill="#ff0"/>
<rect x="1829" y="657" width="1" height="1" fill="#ff0"/>
<rect x="1829" y="659" width="1" height="1" fill="#ff0"/>
<rect x="1829" y="661" width="1" height="1" fill="#ff0"/>
<rect x="1829" y="663" width="1" height="1" fill="#ff0"/>
<rect x="1829" y="665" width="1" height="1" fill="#ff0"/>
<rect x="1829" y="667" width="1" height="1" fill="#ff0"/>
<rect x="1829" y="669" width="1" height="1" fill="#ff0"/>
<rect x="1829" y="671" width="1" height="1" fill="#ff0"/>
<rect x="1829" y="673" width="1" height="1" fill="#ff0"/>
<rect x="1829" y="675" width="1" height="1" fill="#ff0"/>
<rect x="1829" y="677" width="1" height="1" fill="#ff0"/>
<rect x="1829" y="679" width="1" height="1" fill="#ff0"/>
<rect x="1829" y="681" width="1" height="1" fill="#ff0"/>
<rect x="1829" y="683" width="1" height="1" fill="#ff0"/>
<rect x="1829" y="685" width="1" height="1" fill="#ff0"/>
<rect x="1829" y="687" width="1" height="1" fill="#ff0"/>
<rect x="1829" y="689" width="1" height="1" fill="#ff0"/>
<rect x="1829" y="691" width="1" height="1" fill="#ff0"/>
<rect x="1829" y="693" width="1" height="1" fill="#ff0"/>
<rect x="1829" y="695" width="1" height="1" fill="#ff0"/>
<rect x="1829" y="697" width="1" height="1" fill="#ff0"/>
<rect x="1829" y="699" width="1" height="1" fill="#ff0"/>
<rect x="1829" y="701" width="1" height="1" fill="#ff0"/>
<rect x="1829" y="703" width="1" height="1" fill="#ff0"/>
<rect x="1829" y="705" width="1" height="1" fill="#ff0"/>
<rect x="1829" y="707" width="1" height="1" fill="#ff0"/>
<rect x="1829" y="709" width="1" height="1" fill="#ff0"/>
<rect x="1829" y="711" width="1" height="1" fill="#ff0"/>
<rect x="1829" y="713" width="1" height="1" fill="#ff0"/>
<rect x="1829" y="715" width="1" height="1" fill="#ff0"/>
<rect x="1829" y="717" width="1" height="1" fill="#ff0"/>
<rect x="1829" y="719" width="1" height="1" fill="#ff0"/>
<rect x="1829" y="721" width="1" height="1" fill="#ff0"/>
<rect x="1829" y="723" width="1" height="1" fill="#ff0"/>
<rect x="1829" y="725" width="1" height="1" fill="#ff0"/>
<rect x="1829" y="727" width="1" height="1" fill="#ff0"/>
<rect x="1829" y="729" width="1" height="1" fill="#ff0"/>
<rect x="1829" y="731" width="1" height="1" fill="#ff0"/>
<rect x="1829" y="733" width="1" height="1" fill="#ff0"/>
<rect x="1829" y="735" width="1" height="1" fill="#ff0"/>
<rect x="1829" y="737" width="1" height="1" fill="#ff0"/>
<rect x="1829" y="739" width="1" height="1" fill="#ff0"/>
<rect x="1829" y="741" width="1" height="1" fill="#ff0"/>
<rect x="1829" y="743" width="1" height="1" fill="#ff0"/>
<rect x="1829" y="745" width="1" height="1" fill="#ff0"/>
<rect x="1829" y="747" width="1" height="1" fill="#ff0"/>
<rect x="1829" y="749" width="1" height="1" fill="#ff0"/>
<rect x="1829" y="751" width="1" height="1" fill="#ff0"/>
<rect x="1829" y="753" width="1" height="1" fill="#ff0"/>
<rect x="1829" y="755" width="1" height="1" fill="#ff0"/>
<rect x="1829" y="757" width="1" height="1" fill="#ff0"/>
<rect x="1829" y="759" width="1" height="1" fill="#ff0"/>
<rect x="1829" y="761" width="1" height="1" fill="#ff0"/>
<rect x="1829" y="763" width="1" height="1" fill="#ff0"/>
<rect x="1829" y="765" width="1" height="1" fill="#ff0"/>
<rect x="0" y="835" width="1843" height="1" fill="#c8c8c8"/>
<rect x="12" y="836" width="6" height="42" fill="#fff"/>
<rect x="24" y="836" width="6" height="40" fill="#fff"/>
<rect x="37" y="836" width="6" height="38" fill="#fff"/>
<rect x="50" y="836" width="6" height="28" fill="#fff"/>
<rect x="63" y="836" width="6" height="18" fill="#fff"/>
<rect x="76" y="836" width="6" height="12" fill="#fff"/>
<rect x="89" y="836" width="6" height="10" fill="#fff"/>
<rect x="102" y="836" width="6" height="6" fill="#fff"/>
<rect x="115" y="836" width="6" height="1" fill="#fff"/>
<rect x="127" y="832" width="6" height="3" fill="#fff"/>
<rect x="140" y="832" width="6" height="3" fill="#fff"/>
<rect x="153" y="833" width="6" height="2" fill="#fff"/>
<rect x="166" y="834" width="6" height="1" fill="#fff"/>
<rect x="179" y="833" width="6" height="2" fill="#fff"/>
<rect x="192" y="830" width="6" height="5" fill="#fff"/>
<rect x="205" y="836" width="6" height="6" fill="#fff"/>
<rect x="218" y="836" width="6" height="33" fill="#fff"/>
<rect x="230" y="836" width="6" height="81" fill="#fff"/>
<rect x="243" y="836" width="6" height="103" fill="#fff"/>
<rect x="256" y="836" width="6" height="112" fill="#fff"/>
<rect x="269" y="836" width="6" height="105" fill="#fff"/>
<rect x="282" y="836" width="6" height="102" fill="#fff"/>
<rect x="295" y="836" width="6" height="87" fill="#fff"/>
<rect x="308" y="836" width="6" height="65" fill="#fff"/>
<rect x="321" y="836" width="6" height="47" fill="#fff"/>
<rect x="333" y="836" width="6" height="34" fill="#fff"/>
<rect x="346" y="836" width="6" height="23" fill="#fff"/>
<rect x="359" y="836" width="6" height="13" fill="#fff"/>
<rect x="372" y="836" width="6" height="3" fill="#fff"/>
<rect x="385" y="831" width="6" height="4" fill="#fff"/>
<rect x="398" y="820" width="6" height="15" fill="#fff"/>
<rect x="411" y="815" width="6" height="20" fill="#fff"/>
<rect x="424" y="808" width="6" height="27" fill="#fff"/>
<rect x="436" y="798" width="6" height="37" fill="#fff"/>
<rect x="449" y="793" width="6" height="42" fill="#fff"/>
<rect x="462" y="786" width="6" height="49" fill="#fff"/>
<rect x="475" y="785" width="6" height="50" fill="#fff"/>
<rect x="488" y="784" width="6" height="51" fill="#fff"/>
<rect x="501" y="785" width="6" height="50" fill="#fff"/>
<rect x="514" y="789" width="6" height="46" fill="#fff"/>
<rect x="527" y="792" width="6" height="43" fill="#fff"/>
<rect x="539" y="791" width="6" height="44" fill="#fff"/>
<rect x="552" y="795" width="6" height="40" fill="#fff"/>
<rect x="565" y="800" width="6" height="35" fill="#fff"/>
<rect x="578" y="806" width="6" height="29" fill="#fff"/>
<rect x="591" y="809" width="6" height="26" fill="#fff"/>
<rect x="604" y="815" width="6" height="20" fill="#fff"/>
<rect x="617" y="818" width="6" height="17" fill="#fff"/>
<rect x="630" y="821" width="6" height="14" fill="#fff"/>
<rect x="642" y="824" width="6" height="11" fill="#fff"/>
<rect x="655" y="834" width="6" height="1" fill="#fff"/>
<rect x="681" y="836" width="6" height="3" fill="#fff"/>
<rect x="694" y="836" width="6" height="1" fill="#fff"/>
<rect x="707" y="836" width="6" height="7" fill="#fff"/>
<rect x="720" y="836" width="6" height="8" fill="#fff"/>
<rect x="733" y="836" width="6" height="8" fill="#fff"/>
<rect x="745" y="836" width="6" height="11" fill="#fff"/>
<rect x="758" y="836" width="6" height="16" fill="#fff"/>
<rect x="771" y="836" width="6" height="23" fill="#fff"/>
<rect x="784" y="836" width="6" height="23" fill="#fff"/>
<rect x="797" y="836" width="6" height="32" fill="#fff"/>
<rect x="810" y="836" width="6" height="35" fill="#fff"/>
<rect x="823" y="836" width="6" height="45" fill="#fff"/>
<rect x="836" y="836" width="6" height="52" fill="#fff"/>
<rect x="848" y="836" width="6" height="46" fill="#fff"/>
<rect x="861" y="836" width="6" height="42" fill="#fff"/>
<rect x="874" y="836" width="6" height="37" fill="#fff"/>
<rect x="887" y="836" width="6" height="27" fill="#fff"/>
<rect x="900" y="836" width="6" height="17" fill="#fff"/>
<rect x="913" y="836" width="6" height="9" fill="#fff"/>
<rect x="926" y="836" width="6" height="9" fill="#fff"/>
<rect x="939" y="836" width="6" height="7" fill="#fff"/>
<rect x="951" y="836" width="6" height="4" fill="#fff"/>
<rect x="964" y="836" width="6" height="8" fill="#fff"/>
<rect x="977" y="836" width="6" height="13" fill="#fff"/>
<rect x="990" y="836" width="6" height="8" fill="#fff"/>
<rect x="1003" y="836" width="6" height="7" fill="#fff"/>
<rect x="1016" y="836" width="6" height="9" fill="#fff"/>
<rect x="1029" y="836" width="6" height="5" fill="#fff"/>
<rect x="1042" y="836" width="6" height="11" fill="#fff"/>
<rect x="1054" y="836" width="6" height="6" fill="#fff"/>
<rect x="1067" y="831" width="6" height="4" fill="#fff"/>
<rect x="1080" y="821" width="6" height="14" fill="#fff"/>
<rect x="1093" y="809" width="6" height="26" fill="#fff"/>
<rect x="1106" y="802" width="6" height="33" fill="#fff"/>
<rect x="1119" y="790" width="6" height="45" fill="#fff"/>
<rect x="1132" y="788" width="6" height="47" fill="#fff"/>
<rect x="1145" y="788" width="6" height="47" fill="#fff"/>
<rect x="1157" y="798" width="6" height="37" fill="#fff"/>
<rect x="1170" y="805" width="6" height="30" fill="#fff"/>
<rect x="1183" y="810" width="6" height="25" fill="#fff"/>
<rect x="1196" y="812" width="6" height="23" fill="#fff"/>
<rect x="1209" y="814" width="6" height="21" fill="#fff"/>
<rect x="1222" y="818" width="6" height="17" fill="#fff"/>
<rect x="1235" y="820" width="6" height="15" fill="#fff"/>
<rect x="1248" y="823" width="6" height="12" fill="#fff"/>
<rect x="1260" y="836" width="6" height="5" fill="#fff"/>
<rect x="1273" y="832" width="6" height="3" fill="#fff"/>
<rect x="1286" y="819" width="6" height="16" fill="#fff"/>
<rect x="1299" y="804" width="6" height="31" fill="#fff"/>
<rect x="1312" y="788" width="6" height="47" fill="#fff"/>
<rect x="1325" y="777" width="6" height="58" fill="#fff"/>
<rect x="1338" y="777" width="6" height="58" fill="#fff"/>
<rect x="1351" y="792" width="6" height="43" fill="#fff"/>
<rect x="1363" y="798" width="6" height="37" fill="#fff"/>
<rect x="1376" y="818" width="6" height="17" fill="#fff"/>
<rect x="1389" y="824" width="6" height="11" fill="#fff"/>
<rect x="1402" y="823" width="6" height="12" fill="#fff"/>
<rect x="1415" y="813" width="6" height="22" fill="#fff"/>
<rect x="1428" y="819" width="6" height="16" fill="#fff"/>
<rect x="1441" y="826" width="6" height="9" fill="#fff"/>
<rect x="1466" y="834" width="6" height="1" fill="#fff"/>
<rect x="1479" y="834" width="6" height="1" fill="#fff"/>
<rect x="1492" y="836" width="6" height="1" fill="#fff"/>
<rect x="1505" y="833" width="6" height="2" fill="#fff"/>
<rect x="1518" y="826" width="6" height="9" fill="#fff"/>
<rect x="1531" y="822" width="6" height="13" fill="#fff"/>
<rect x="1544" y="820" width="6" height="15" fill="#fff"/>
<rect x="1557" y="821" width="6" height="14" fill="#fff"/>
<rect x="1569" y="833" width="6" height="2" fill="#fff"/>
<rect x="1582" y="833" width="6" height="2" fill="#fff"/>
<rect x="1595" y="833" width="6" height="2" fill="#fff"/>
<rect x="1608" y="832" width="6" height="3" fill="#fff"/>
<rect x="1647" y="833" width="6" height="2" fill="#fff"/>
<rect x="1660" y="834" width="6" height="1" fill="#fff"/>
<rect x="1672" y="836" width="6" height="7" fill="#fff"/>
<rect x="1685" y="836" width="6" height="18" fill="#fff"/>
<rect x="1698" y="836" width="6" height="17" fill="#fff"/>
<rect x="1711" y="836" width="6" height="14" fill="#fff"/>
<rect x="1724" y="836" width="6" height="15" fill="#fff"/>
<rect x="1737" y="836" width="6" height="23" fill="#fff"/>
<rect x="1750" y="836" width="6" height="33" fill="#fff"/>
<rect x="1763" y="836" width="6" height="41" fill="#fff"/>
<rect x="1775" y="836" width="6" height="50" fill="#fff"/>
<rect x="1788" y="836" width="6" height="50" fill="#fff"/>
<rect x="1801" y="836" width="6" height="52" fill="#fff"/>
<rect x="1814" y="836" width="6" height="47" fill="#fff"/>
<rect x="1827" y="836" width="6" height="45" fill="#fff"/>
<rect x="0" y="766" width="1904" height="1" fill="#000"/>
<rect x="0" y="967" width="1842" height="1" fill="#000"/>
<rect x="1845" y="0" width="1" height="963" fill="#000"/>
<rect x="1846" y="43" width="5" height="1" fill="#000"/>
<rect x="1846" y="107" width="5" height="1" fill="#000"/>
<rect x="1846" y="171" width="5" height="1" fill="#000"/>
<rect x="1846" y="235" width="5" height="1" fill="#000"/>
<rect x="1846" y="299" width="5" height="1" fill="#000"/>
<rect x="1846" y="363" width="5" height="1" fill="#000"/>
<rect x="1846" y="427" width="5" height="1" fill="#000"/>
<rect x="1846" y="491" width="5" height="1" fill="#000"/>
<rect x="1846" y="555" width="5" height="1" fill="#000"/>
<rect x="1846" y="619" width="5" height="1" fill="#000"/>
<rect x="1846" y="683" width="5" height="1" fill="#000"/>
<rect x="1846" y="747" width="5" height="1" fill="#000"/>
<rect x="1846" y="782" width="5" height="1" fill="#000"/>
<rect x="1846" y="809" width="5" height="1" fill="#000"/>
<rect x="1846" y="835" width="5" height="1" fill="#000"/>
<rect x="1846" y="862" width="5" height="1" fill="#000"/>
<rect x="1846" y="889" width="5" height="1" fill="#000"/>
<rect x="1846" y="916" width="5" height="1" fill="#000"/>
<rect x="1846" y="943" width="5" height="1" fill="#000"/>
<rect x="52" y="968" width="1" height="5" fill="#000"/>
<rect x="117" y="968" width="1" height="5" fill="#000"/>
<rect x="181" y="968" width="1" height="5" fill="#000"/>
<rect x="245" y="968" width="1" height="5" fill="#000"/>
<rect x="297" y="968" width="1" height="5" fill="#000"/>
<rect x="361" y="968" width="1" height="5" fill="#000"/>
<rect x="413" y="968" width="1" height="5" fill="#000"/>
<rect x="477" y="968" width="1" height="5" fill="#000"/>
<rect x="529" y="968" width="1" height="5" fill="#000"/>
<rect x="593" y="968" width="1" height="5" fill="#000"/>
<rect x="657" y="968" width="1" height="5" fill="#000"/>
<rect x="709" y="968" width="1" height="5" fill="#000"/>
<rect x="773" y="968" width="1" height="5" fill="#000"/>
<rect x="825" y="968" width="1" height="5" fill="#000"/>
<rect x="889" y="968" width="1" height="5" fill="#000"/>
<rect x="941" y="968" width="1" height="5" fill="#000"/>
<rect x="1005" y="968" width="1" height="5" fill="#000"/>
<rect x="1069" y="968" width="1" height="5" fill="#000"/>
<rect x="1121" y="968" width="1" height="5" fill="#000"/>
<rect x="1185" y="968" width="1" height="5" fill="#000"/>
<rect x="1237" y="968" width="1" height="5" fill="#000"/>
<rect x="1301" y="968" width="1" height="5" fill="#000"/>
<rect x="1353" y="968" width="1" height="5" fill="#000"/>
<rect x="1417" y="968" width="1" height="5" fill="#000"/>
<rect x="1481" y="968" width="1" height="5" fill="#000"/>
<rect x="1533" y="968" width="1" height="5" fill="#000"/>
<rect x="1597" y="968" width="1" height="5" fill="#000"/>
<rect x="1649" y="968" width="1" height="5" fill="#000"/>
<rect x="1713" y="968" width="1" height="5" fill="#000"/>
<rect x="1765" y="968" width="1" height="5" fill="#000"/>
<rect x="1829" y="968" width="1" height="5" fill="#000"/>
</g>
<ellipse cx="1.5" cy="115" rx="1.15" ry="0.95" fill="#000"/><ellipse cx="14.5" cy="115" rx="1.15" ry="0.95" fill="#000"/><ellipse cx="26.5" cy="115" rx="1.15" ry="0.95" fill="#000"/><ellipse cx="39.5" cy="115" rx="1.15" ry="0.95" fill="#000"/><ellipse cx="52.5" cy="115" rx="1.15" ry="0.95" fill="#000"/><ellipse cx="65.5" cy="115" rx="1.15" ry="0.95" fill="#000"/><ellipse cx="78.5" cy="115" rx="1.15" ry="0.95" fill="#000"/><ellipse cx="91.5" cy="115" rx="1.15" ry="0.95" fill="#000"/><ellipse cx="104.5" cy="115" rx="1.15" ry="0.95" fill="#000"/><ellipse cx="117.5" cy="115" rx="1.15" ry="0.95" fill="#000"/><ellipse cx="129.5" cy="115" rx="1.15" ry="0.95" fill="#000"/><ellipse cx="142.5" cy="115" rx="1.15" ry="0.95" fill="#000"/><ellipse cx="155.5" cy="115" rx="1.15" ry="0.95" fill="#000"/><ellipse cx="335.5" cy="400" rx="1.15" ry="0.95" fill="#000"/><ellipse cx="348.5" cy="400" rx="1.15" ry="0.95" fill="#000"/><ellipse cx="361.5" cy="400" rx="1.15" ry="0.95" fill="#000"/><ellipse cx="374.5" cy="400" rx="1.15" ry="0.95" fill="#000"/><ellipse cx="387.5" cy="400" rx="1.15" ry="0.95" fill="#000"/><ellipse cx="657.5" cy="294" rx="1.15" ry="0.95" fill="#000"/><ellipse cx="670.5" cy="294" rx="1.15" ry="0.95" fill="#000"/><ellipse cx="683.5" cy="294" rx="1.15" ry="0.95" fill="#000"/><ellipse cx="696.5" cy="294" rx="1.15" ry="0.95" fill="#000"/><ellipse cx="709.5" cy="294" rx="1.15" ry="0.95" fill="#000"/><ellipse cx="722.5" cy="294" rx="1.15" ry="0.95" fill="#000"/><ellipse cx="735.5" cy="294" rx="1.15" ry="0.95" fill="#000"/><ellipse cx="747.5" cy="294" rx="1.15" ry="0.95" fill="#000"/><ellipse cx="760.5" cy="294" rx="1.15" ry="0.95" fill="#000"/><ellipse cx="773.5" cy="294" rx="1.15" ry="0.95" fill="#000"/><ellipse cx="915.5" cy="514.9" rx="1.15" ry="0.95" fill="#000"/><ellipse cx="928.5" cy="514.9" rx="1.15" ry="0.95" fill="#000"/><ellipse cx="941.5" cy="514.9" rx="1.15" ry="0.95" fill="#000"/><ellipse cx="953.5" cy="514.9" rx="1.15" ry="0.95" fill="#000"/><ellipse cx="966.5" cy="514.9" rx="1.15" ry="0.95" fill="#000"/><ellipse cx="979.5" cy="514.9" rx="1.15" ry="0.95" fill="#000"/><ellipse cx="992.5" cy="514.9" rx="1.15" ry="0.95" fill="#000"/><ellipse cx="1005.5" cy="514.9" rx="1.15" ry="0.95" fill="#000"/><ellipse cx="1018.5" cy="514.9" rx="1.15" ry="0.95" fill="#000"/><ellipse cx="1031.5" cy="514.9" rx="1.15" ry="0.95" fill="#000"/><ellipse cx="1353.5" cy="341.9" rx="1.15" ry="0.95" fill="#000"/><ellipse cx="1365.5" cy="341.9" rx="1.15" ry="0.95" fill="#000"/><ellipse cx="1378.5" cy="341.9" rx="1.15" ry="0.95" fill="#000"/><ellipse cx="1430.5" cy="297.1" rx="1.15" ry="0.95" fill="#000"/><ellipse cx="1443.5" cy="297.1" rx="1.15" ry="0.95" fill="#000"/><ellipse cx="1456.5" cy="297.1" rx="1.15" ry="0.95" fill="#000"/><ellipse cx="1507.5" cy="371" rx="1.15" ry="0.95" fill="#000"/><ellipse cx="1520.5" cy="371" rx="1.15" ry="0.95" fill="#000"/><ellipse cx="1533.5" cy="371" rx="1.15" ry="0.95" fill="#000"/><ellipse cx="1546.5" cy="371" rx="1.15" ry="0.95" fill="#000"/><ellipse cx="1559.5" cy="371" rx="1.15" ry="0.95" fill="#000"/><ellipse cx="1571.5" cy="371" rx="1.15" ry="0.95" fill="#000"/><ellipse cx="1584.5" cy="371" rx="1.15" ry="0.95" fill="#000"/><ellipse cx="1649.5" cy="303" rx="1.15" ry="0.95" fill="#000"/><ellipse cx="1662.5" cy="303" rx="1.15" ry="0.95" fill="#000"/><ellipse cx="1674.5" cy="303" rx="1.15" ry="0.95" fill="#000"/><ellipse cx="1687.5" cy="303" rx="1.15" ry="0.95" fill="#000"/><ellipse cx="1726.5" cy="283.9" rx="1.15" ry="0.95" fill="#000"/><ellipse cx="1739.5" cy="283.9" rx="1.15" ry="0.95" fill="#000"/><ellipse cx="1752.5" cy="283.9" rx="1.15" ry="0.95" fill="#000"/><ellipse cx="1765.5" cy="283.9" rx="1.15" ry="0.95" fill="#000"/><ellipse cx="1777.5" cy="283.9" rx="1.15" ry="0.95" fill="#000"/><ellipse cx="1790.5" cy="283.9" rx="1.15" ry="0.95" fill="#000"/><ellipse cx="1803.5" cy="283.9" rx="1.15" ry="0.95" fill="#000"/><ellipse cx="1816.5" cy="283.9" rx="1.15" ry="0.95" fill="#000"/><ellipse cx="1829.5" cy="283.9" rx="1.15" ry="0.95" fill="#000"/><ellipse cx="1842.5" cy="283.9" rx="1.15" ry="0.95" fill="#000"/><circle cx="207.5" cy="41.3" r="1.3" fill="#ff0000"/><circle cx="220.5" cy="41.3" r="1.3" fill="#ff0000"/><circle cx="232.5" cy="41.3" r="1.3" fill="#ff0000"/><circle cx="245.5" cy="41.3" r="1.3" fill="#ff0000"/><circle cx="258.5" cy="41.3" r="1.3" fill="#ff0000"/><circle cx="529.5" cy="310.1" r="1.3" fill="#ff0000"/><circle cx="541.5" cy="310.1" r="1.3" fill="#ff0000"/><circle cx="554.5" cy="310.1" r="1.3" fill="#ff0000"/><circle cx="567.5" cy="310.1" r="1.3" fill="#ff0000"/><circle cx="580.5" cy="310.1" r="1.3" fill="#ff0000"/><circle cx="593.5" cy="310.1" r="1.3" fill="#ff0000"/><circle cx="606.5" cy="310.1" r="1.3" fill="#ff0000"/><circle cx="619.5" cy="310.1" r="1.3" fill="#ff0000"/><circle cx="632.5" cy="310.1" r="1.3" fill="#ff0000"/><circle cx="644.5" cy="310.1" r="1.3" fill="#ff0000"/><circle cx="657.5" cy="310.1" r="1.3" fill="#ff0000"/><circle cx="670.5" cy="310.1" r="1.3" fill="#ff0000"/><circle cx="683.5" cy="310.1" r="1.3" fill="#ff0000"/><circle cx="696.5" cy="310.1" r="1.3" fill="#ff0000"/><circle cx="709.5" cy="310.1" r="1.3" fill="#ff0000"/><circle cx="722.5" cy="310.1" r="1.3" fill="#ff0000"/><circle cx="735.5" cy="310.1" r="1.3" fill="#ff0000"/><circle cx="747.5" cy="310.1" r="1.3" fill="#ff0000"/><circle cx="760.5" cy="310.1" r="1.3" fill="#ff0000"/><circle cx="773.5" cy="310.1" r="1.3" fill="#ff0000"/><circle cx="1159.5" cy="515.2" r="1.3" fill="#ff0000"/><circle cx="1172.5" cy="515.2" r="1.3" fill="#ff0000"/><circle cx="1185.5" cy="515.2" r="1.3" fill="#ff0000"/><circle cx="1198.5" cy="515.2" r="1.3" fill="#ff0000"/><circle cx="1211.5" cy="515.2" r="1.3" fill="#ff0000"/><circle cx="1224.5" cy="515.2" r="1.3" fill="#ff0000"/><circle cx="1237.5" cy="515.2" r="1.3" fill="#ff0000"/><circle cx="1250.5" cy="515.2" r="1.3" fill="#ff0000"/><circle cx="1262.5" cy="515.2" r="1.3" fill="#ff0000"/><circle cx="1275.5" cy="515.2" r="1.3" fill="#ff0000"/><circle cx="1288.5" cy="515.2" r="1.3" fill="#ff0000"/><circle cx="1301.5" cy="515.2" r="1.3" fill="#ff0000"/><circle cx="1314.5" cy="515.2" r="1.3" fill="#ff0000"/><circle cx="1327.5" cy="515.2" r="1.3" fill="#ff0000"/><circle cx="1340.5" cy="515.2" r="1.3" fill="#ff0000"/><circle cx="1353.5" cy="515.2" r="1.3" fill="#ff0000"/><circle cx="1365.5" cy="515.2" r="1.3" fill="#ff0000"/><circle cx="1378.5" cy="515.2" r="1.3" fill="#ff0000"/><circle cx="1391.5" cy="515.2" r="1.3" fill="#ff0000"/><circle cx="1404.5" cy="515.2" r="1.3" fill="#ff0000"/><circle cx="1417.5" cy="515.2" r="1.3" fill="#ff0000"/><circle cx="1430.5" cy="515.2" r="1.3" fill="#ff0000"/><circle cx="1443.5" cy="515.2" r="1.3" fill="#ff0000"/><circle cx="1456.5" cy="515.2" r="1.3" fill="#ff0000"/><circle cx="1468.5" cy="515.2" r="1.3" fill="#ff0000"/>
<line x1="221" y1="-0.5" x2="221" y2="766" stroke="#ff0000" stroke-width="2" stroke-dasharray="2 2"/><rect x="0" y="766" width="1904" height="1" fill="#000" shape-rendering="crispEdges"/>
<path d="M1813 21.5H1830M1823 14L1830.5 21.5L1823 29" fill="none" stroke="#000" stroke-width="1.8"/>
<path d="M218.5 273.5H223V283.5H226.5L220.8 288.3L215 283.5H218.5Z" fill="#111" stroke="#f2c800" stroke-width="0.9"/>
<rect x="220" y="276" width="2" height="2" fill="#ff0000"/>
<rect x="220" y="280" width="2" height="2" fill="#ff0000"/>
<rect x="220" y="284" width="2" height="2" fill="#ff0000"/>
<text x="1854" y="48" font-size="10.5" text-anchor="start" fill="#fff" stroke="#fff" stroke-width="0.15" textLength="37" lengthAdjust="spacingAndGlyphs">6330,00</text>
<text x="1854" y="112" font-size="10.5" text-anchor="start" fill="#fff" stroke="#fff" stroke-width="0.15" textLength="37" lengthAdjust="spacingAndGlyphs">6325,00</text>
<text x="1854" y="176" font-size="10.5" text-anchor="start" fill="#fff" stroke="#fff" stroke-width="0.15" textLength="37" lengthAdjust="spacingAndGlyphs">6320,00</text>
<text x="1854" y="240" font-size="10.5" text-anchor="start" fill="#fff" stroke="#fff" stroke-width="0.15" textLength="37" lengthAdjust="spacingAndGlyphs">6315,00</text>
<text x="1854" y="304" font-size="10.5" text-anchor="start" fill="#fff" stroke="#fff" stroke-width="0.15" textLength="37" lengthAdjust="spacingAndGlyphs">6310,00</text>
<text x="1854" y="368" font-size="10.5" text-anchor="start" fill="#fff" stroke="#fff" stroke-width="0.15" textLength="37" lengthAdjust="spacingAndGlyphs">6305,00</text>
<text x="1854" y="432" font-size="10.5" text-anchor="start" fill="#fff" stroke="#fff" stroke-width="0.15" textLength="37" lengthAdjust="spacingAndGlyphs">6300,00</text>
<text x="1854" y="496" font-size="10.5" text-anchor="start" fill="#fff" stroke="#fff" stroke-width="0.15" textLength="37" lengthAdjust="spacingAndGlyphs">6295,00</text>
<text x="1854" y="560" font-size="10.5" text-anchor="start" fill="#fff" stroke="#fff" stroke-width="0.15" textLength="37" lengthAdjust="spacingAndGlyphs">6290,00</text>
<text x="1854" y="624" font-size="10.5" text-anchor="start" fill="#fff" stroke="#fff" stroke-width="0.15" textLength="37" lengthAdjust="spacingAndGlyphs">6285,00</text>
<text x="1854" y="688" font-size="10.5" text-anchor="start" fill="#fff" stroke="#fff" stroke-width="0.15" textLength="37" lengthAdjust="spacingAndGlyphs">6280,00</text>
<text x="1854" y="752" font-size="10.5" text-anchor="start" fill="#fff" stroke="#fff" stroke-width="0.15" textLength="37" lengthAdjust="spacingAndGlyphs">6275,00</text>
<text x="1854" y="787" font-size="10.5" text-anchor="start" fill="#fff" stroke="#fff" stroke-width="0.15">2</text>
<text x="1854" y="814" font-size="10.5" text-anchor="start" fill="#fff" stroke="#fff" stroke-width="0.15">1</text>
<text x="1854" y="840" font-size="10.5" text-anchor="start" fill="#fff" stroke="#fff" stroke-width="0.15">0</text>
<text x="1854" y="867" font-size="10.5" text-anchor="start" fill="#fff" stroke="#fff" stroke-width="0.15">-1</text>
<text x="1854" y="894" font-size="10.5" text-anchor="start" fill="#fff" stroke="#fff" stroke-width="0.15">-2</text>
<text x="1854" y="921" font-size="10.5" text-anchor="start" fill="#fff" stroke="#fff" stroke-width="0.15">-3</text>
<text x="1854" y="948" font-size="10.5" text-anchor="start" fill="#fff" stroke="#fff" stroke-width="0.15">-4</text>
<text x="53" y="990" font-size="10" text-anchor="middle" fill="#fff" stroke="#fff" stroke-width="0.15" textLength="42" lengthAdjust="spacingAndGlyphs">11 de jul.</text>
<text x="118" y="990" font-size="10" text-anchor="middle" fill="#fff" stroke="#fff" stroke-width="0.15" textLength="25" lengthAdjust="spacingAndGlyphs">00:59</text>
<text x="182" y="990" font-size="10" text-anchor="middle" fill="#fff" stroke="#fff" stroke-width="0.15" textLength="25" lengthAdjust="spacingAndGlyphs">01:49</text>
<text x="246" y="990" font-size="10" text-anchor="middle" fill="#fff" stroke="#fff" stroke-width="0.15" textLength="25" lengthAdjust="spacingAndGlyphs">02:39</text>
<text x="298" y="990" font-size="10" text-anchor="middle" fill="#fff" stroke="#fff" stroke-width="0.15" textLength="25" lengthAdjust="spacingAndGlyphs">03:19</text>
<text x="362" y="990" font-size="10" text-anchor="middle" fill="#fff" stroke="#fff" stroke-width="0.15" textLength="25" lengthAdjust="spacingAndGlyphs">04:08</text>
<text x="414" y="990" font-size="10" text-anchor="middle" fill="#fff" stroke="#fff" stroke-width="0.15" textLength="25" lengthAdjust="spacingAndGlyphs">04:48</text>
<text x="478" y="990" font-size="10" text-anchor="middle" fill="#fff" stroke="#fff" stroke-width="0.15" textLength="25" lengthAdjust="spacingAndGlyphs">05:38</text>
<text x="530" y="990" font-size="10" text-anchor="middle" fill="#fff" stroke="#fff" stroke-width="0.15" textLength="25" lengthAdjust="spacingAndGlyphs">06:18</text>
<text x="594" y="990" font-size="10" text-anchor="middle" fill="#fff" stroke="#fff" stroke-width="0.15" textLength="25" lengthAdjust="spacingAndGlyphs">07:07</text>
<text x="658" y="990" font-size="10" text-anchor="middle" fill="#fff" stroke="#fff" stroke-width="0.15" textLength="25" lengthAdjust="spacingAndGlyphs">07:57</text>
<text x="710" y="990" font-size="10" text-anchor="middle" fill="#fff" stroke="#fff" stroke-width="0.15" textLength="25" lengthAdjust="spacingAndGlyphs">08:37</text>
<text x="774" y="990" font-size="10" text-anchor="middle" fill="#fff" stroke="#fff" stroke-width="0.15" textLength="25" lengthAdjust="spacingAndGlyphs">09:27</text>
<text x="826" y="990" font-size="10" text-anchor="middle" fill="#fff" stroke="#fff" stroke-width="0.15" textLength="25" lengthAdjust="spacingAndGlyphs">10:06</text>
<text x="890" y="990" font-size="10" text-anchor="middle" fill="#fff" stroke="#fff" stroke-width="0.15" textLength="25" lengthAdjust="spacingAndGlyphs">10:56</text>
<text x="942" y="990" font-size="10" text-anchor="middle" fill="#fff" stroke="#fff" stroke-width="0.15" textLength="25" lengthAdjust="spacingAndGlyphs">11:36</text>
<text x="1006" y="990" font-size="10" text-anchor="middle" fill="#fff" stroke="#fff" stroke-width="0.15" textLength="25" lengthAdjust="spacingAndGlyphs">12:26</text>
<text x="1070" y="990" font-size="10" text-anchor="middle" fill="#fff" stroke="#fff" stroke-width="0.15" textLength="25" lengthAdjust="spacingAndGlyphs">13:16</text>
<text x="1122" y="990" font-size="10" text-anchor="middle" fill="#fff" stroke="#fff" stroke-width="0.15" textLength="25" lengthAdjust="spacingAndGlyphs">13:55</text>
<text x="1186" y="990" font-size="10" text-anchor="middle" fill="#fff" stroke="#fff" stroke-width="0.15" textLength="25" lengthAdjust="spacingAndGlyphs">14:45</text>
<text x="1238" y="990" font-size="10" text-anchor="middle" fill="#fff" stroke="#fff" stroke-width="0.15" textLength="25" lengthAdjust="spacingAndGlyphs">15:25</text>
<text x="1302" y="990" font-size="10" text-anchor="middle" fill="#fff" stroke="#fff" stroke-width="0.15" textLength="25" lengthAdjust="spacingAndGlyphs">16:15</text>
<text x="1354" y="990" font-size="10" text-anchor="middle" fill="#fff" stroke="#fff" stroke-width="0.15" textLength="25" lengthAdjust="spacingAndGlyphs">16:54</text>
<text x="1418" y="990" font-size="10" text-anchor="middle" fill="#fff" stroke="#fff" stroke-width="0.15" textLength="25" lengthAdjust="spacingAndGlyphs">17:44</text>
<text x="1482" y="990" font-size="10" text-anchor="middle" fill="#fff" stroke="#fff" stroke-width="0.15" textLength="25" lengthAdjust="spacingAndGlyphs">18:34</text>
<text x="1534" y="990" font-size="10" text-anchor="middle" fill="#fff" stroke="#fff" stroke-width="0.15" textLength="25" lengthAdjust="spacingAndGlyphs">19:14</text>
<text x="1598" y="990" font-size="10" text-anchor="middle" fill="#fff" stroke="#fff" stroke-width="0.15" textLength="25" lengthAdjust="spacingAndGlyphs">20:03</text>
<text x="1650" y="990" font-size="10" text-anchor="middle" fill="#fff" stroke="#fff" stroke-width="0.15" textLength="25" lengthAdjust="spacingAndGlyphs">20:43</text>
<text x="1714" y="990" font-size="10" text-anchor="middle" fill="#fff" stroke="#fff" stroke-width="0.15" textLength="25" lengthAdjust="spacingAndGlyphs">21:33</text>
<text x="1766" y="990" font-size="10" text-anchor="middle" fill="#fff" stroke="#fff" stroke-width="0.15" textLength="25" lengthAdjust="spacingAndGlyphs">22:13</text>
<text x="1830" y="990" font-size="10" text-anchor="middle" fill="#fff" stroke="#fff" stroke-width="0.15" textLength="25" lengthAdjust="spacingAndGlyphs">23:00</text>
<text x="5.5" y="15.8" font-size="10" text-anchor="start" fill="#fff" stroke="#fff" stroke-width="0.15" textLength="152" lengthAdjust="spacingAndGlyphs">Bar timer(ES 09-25 (597 Second))</text>
<text x="5.5" y="782.5" font-size="10" text-anchor="start" fill="#fff" stroke="#fff" stroke-width="0.15" textLength="176" lengthAdjust="spacingAndGlyphs">MACD(ES 09-25 (597 Second),12,26,9)</text>
<text x="5.5" y="949.5" font-size="10" text-anchor="start" fill="#fff" stroke="#fff" stroke-width="0.15" textLength="112.5" lengthAdjust="spacingAndGlyphs">© 2025 NinjaTrader, LLC</text>
<text x="4.2" y="1009.8" font-size="9" text-anchor="start" fill="#000" stroke="#000" stroke-width="0.15" textLength="34" lengthAdjust="spacingAndGlyphs">ES 09-25</text>
<text x="1703.5" y="753.8" font-size="10" text-anchor="start" fill="#fff" stroke="#fff" stroke-width="0.15" textLength="129" lengthAdjust="spacingAndGlyphs">Time remaining = 00:09:04</text>
<text x="803.6" y="139.7" font-size="34" text-anchor="start" fill="#fff" stroke="#fff" stroke-width="0" textLength="50.5" lengthAdjust="spacingAndGlyphs">597</text>
<path d="M1839.5 504.5L1845.5 495.5H1903.5V513.5H1845.5Z" fill="#d3d3d3" stroke="#000" stroke-width="1"/>
<text x="1854" y="509" font-size="10.5" text-anchor="start" fill="#000" stroke="#000" stroke-width="0.15" textLength="37" lengthAdjust="spacingAndGlyphs">6294,00</text>
<path d="M1839.5 880.5L1845.5 871.5H1903.5V889.5H1845.5Z" fill="#d3d3d3" stroke="#000" stroke-width="1"/>
<text x="1854.5" y="884.8" font-size="10.5" text-anchor="start" fill="#000" stroke="#000" stroke-width="0.15" textLength="23" lengthAdjust="spacingAndGlyphs">-1,68</text>
<g shape-rendering="crispEdges"><rect x="1838" y="959" width="66" height="4" fill="#2a2a2a"/><rect x="1839" y="959" width="64" height="1" fill="#d3d3d3"/><rect x="1839" y="961" width="64" height="1" fill="#d3d3d3"/></g>
<clipPath id="cm"><rect x="1836" y="963" width="68" height="7"/></clipPath>
<g clip-path="url(#cm)"><path d="M1837 960.5H1903.5V973H1846Z" fill="#d3d3d3" stroke="#000" stroke-width="1"/>
<text x="1854.5" y="967.2" font-size="10.5" text-anchor="start" fill="#000" stroke="#000" stroke-width="0.15" textLength="21" lengthAdjust="spacingAndGlyphs">-7,43</text>
</g>
<text aria-label="NINJATRADER" y="1011" font-size="15.5" font-weight="bold" fill="#fa481e"><tspan x="1791" textLength="29.7" lengthAdjust="spacingAndGlyphs">NIN</tspan><tspan x="1821.8" textLength="3.6" lengthAdjust="spacingAndGlyphs">J</tspan><tspan x="1826.4" textLength="75.4" lengthAdjust="spacingAndGlyphs">ATRADER</tspan></text>
</svg>
</body></html>
